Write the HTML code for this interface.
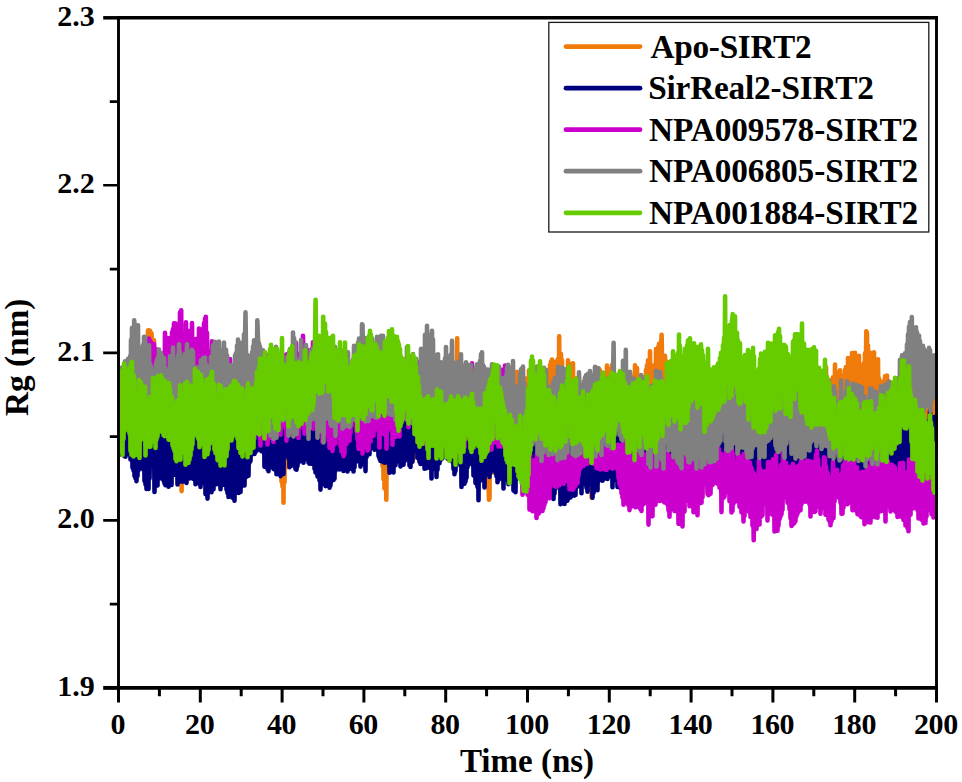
<!DOCTYPE html>
<html><head><meta charset="utf-8"><title>Rg plot</title>
<style>html,body{margin:0;padding:0;background:#fff}svg{display:block}.t{font-family:"Liberation Serif","Times New Roman",serif;font-weight:bold;fill:#000}</style></head>
<body>
<svg width="962" height="782" viewBox="0 0 962 782">
<rect x="0" y="0" width="962" height="782" fill="#fff"/>
<defs><clipPath id="pc"><rect x="118.5" y="17.8" width="819.2" height="670.1"/></clipPath></defs>
<g clip-path="url(#pc)">
<polyline fill="none" stroke="#F07A0A" stroke-width="4.6" stroke-linejoin="round" stroke-linecap="round" points="119.0,384.6 119.5,426.8 120.0,388.2 120.5,421.4 121.0,387.3 121.5,426.5 122.0,383.6 122.5,422.3 123.0,381.3 123.5,435.8 124.0,378.9 124.5,421.1 125.0,383.3 125.5,416.5 126.0,388.6 126.5,424.5 127.0,383.6 127.5,431.3 128.0,384.8 128.5,439.6 129.0,383.7 129.5,440.0 130.0,388.3 130.5,438.2 131.0,389.2 131.5,435.7 132.0,385.7 132.5,441.0 133.0,382.0 133.5,441.7 134.0,377.5 134.5,436.8 135.0,366.1 135.5,426.0 136.0,374.6 136.5,412.5 137.0,367.5 137.5,441.0 138.0,365.6 138.5,409.9 139.0,367.0 139.5,416.9 140.0,360.0 140.5,427.1 141.0,370.6 141.5,423.5 142.0,370.9 142.5,425.3 143.0,358.2 143.5,431.3 144.0,360.1 144.5,431.1 145.0,362.1 145.5,431.4 146.0,363.7 146.5,443.1 147.0,360.0 147.5,434.2 148.0,330.5 148.5,435.3 149.0,330.3 149.5,418.2 150.0,330.7 150.5,422.9 151.0,344.1 151.5,333.3 152.0,347.2 152.5,415.0 153.0,349.8 153.5,418.2 154.0,340.3 154.5,419.8 155.0,354.9 155.5,428.1 156.0,363.8 156.5,437.1 157.0,363.7 157.5,431.5 158.0,366.3 158.5,434.5 159.0,366.3 159.5,434.8 160.0,372.6 160.5,444.6 161.0,378.6 161.5,426.1 162.0,376.9 162.5,432.9 163.0,369.4 163.5,446.8 164.0,371.9 164.5,444.6 165.0,385.6 165.5,442.6 166.0,392.0 166.5,449.8 167.0,368.9 167.5,452.0 168.0,369.7 168.5,440.6 169.0,372.4 169.5,449.3 170.0,369.9 170.5,440.7 171.0,372.1 171.5,444.9 172.0,379.5 172.5,443.7 173.0,380.0 173.5,433.9 174.0,374.3 174.5,435.3 175.0,373.3 175.5,433.2 176.0,383.5 176.5,436.6 177.0,377.9 177.5,449.4 178.0,386.1 178.5,460.0 179.0,385.5 179.5,459.8 180.0,388.4 180.5,459.2 181.0,402.6 181.6,491.1 182.0,402.9 182.5,452.8 183.0,394.3 183.5,447.2 184.0,402.4 184.5,440.5 185.0,390.9 185.5,438.2 186.0,385.0 186.5,461.9 187.0,392.1 187.5,440.7 188.0,385.4 188.5,447.5 189.0,390.8 189.5,450.9 190.0,392.9 190.5,449.0 191.0,395.3 191.5,441.2 192.0,374.9 192.5,437.5 193.0,395.8 193.5,430.5 194.0,403.7 194.5,438.4 195.0,396.5 195.5,447.4 196.0,392.4 196.5,448.2 197.0,395.4 197.5,448.8 198.0,372.0 198.5,459.5 199.0,385.0 199.5,453.4 200.0,384.6 200.5,446.8 201.0,392.8 201.5,448.5 202.0,380.8 202.5,442.7 203.0,379.8 203.5,436.0 204.0,377.5 204.5,443.9 205.0,389.0 205.5,439.1 206.0,389.9 206.5,437.9 207.0,391.2 207.5,442.6 208.0,387.1 208.5,458.7 209.0,381.7 209.5,445.3 210.0,373.3 210.5,457.5 211.0,388.6 211.5,439.5 212.0,386.0 212.5,445.0 213.0,397.4 213.5,445.9 214.0,407.2 214.5,447.5 215.0,406.4 215.5,447.2 216.0,403.7 216.5,439.4 217.0,404.7 217.5,443.5 218.0,393.1 218.5,447.6 219.0,394.4 219.5,447.6 220.0,400.7 220.5,445.7 221.0,388.2 221.5,440.5 222.0,393.0 222.5,448.4 223.0,389.5 223.5,451.7 224.0,378.1 224.5,453.2 225.0,386.7 225.5,459.1 226.0,381.5 226.5,447.1 227.0,377.0 227.5,446.0 228.0,406.4 228.5,461.1 229.0,410.2 229.5,452.3 230.0,398.1 230.5,452.6 231.0,396.0 231.5,455.5 232.0,379.4 232.5,454.8 233.0,375.4 233.5,461.0 234.0,376.5 234.5,458.8 235.0,376.9 235.5,454.0 236.0,385.6 236.5,443.6 237.0,382.9 237.5,448.1 238.0,386.4 238.5,432.7 239.0,386.6 239.5,439.4 240.0,395.3 240.5,438.8 241.0,395.0 241.5,445.7 242.0,395.5 242.5,431.4 243.0,391.6 243.5,435.6 244.0,394.5 244.5,428.1 245.0,391.7 245.5,440.8 246.0,398.0 246.5,442.0 247.0,402.5 247.5,454.9 248.0,392.4 248.5,435.0 249.0,362.2 249.5,432.6 250.0,373.6 250.5,422.5 251.0,355.7 251.5,430.6 252.0,359.2 252.5,439.1 253.0,381.7 253.5,437.8 254.0,383.3 254.5,429.1 255.0,394.1 255.5,434.0 256.0,387.5 256.5,449.8 257.0,382.7 257.5,424.8 258.0,389.9 258.5,431.9 259.0,402.8 259.5,430.8 260.0,397.9 260.5,429.5 261.0,398.6 261.5,432.7 262.0,381.4 262.5,435.8 263.0,380.5 263.5,433.9 264.0,384.6 264.5,445.9 265.0,383.9 265.5,450.3 266.0,380.1 266.5,448.4 267.0,377.7 267.5,453.1 268.0,377.4 268.5,454.2 269.0,399.5 269.5,444.1 270.0,407.1 270.5,438.0 271.0,409.3 271.5,441.3 272.0,405.1 272.5,453.4 273.0,394.3 273.5,447.4 274.0,370.5 274.5,438.0 275.0,396.0 275.5,442.1 276.0,404.3 276.5,450.2 277.0,411.5 277.5,450.4 278.0,402.4 278.5,470.4 279.0,407.3 279.5,465.7 280.0,402.7 280.5,468.5 281.0,396.3 281.5,481.6 282.0,404.7 282.5,486.4 283.0,394.9 283.5,502.7 284.0,398.3 284.5,482.6 285.0,384.5 285.5,468.2 286.0,392.1 286.5,465.0 287.0,396.5 287.5,452.2 288.0,405.5 288.5,450.7 289.0,409.0 289.5,439.4 290.0,393.3 290.5,442.7 291.0,399.9 291.5,443.9 292.0,385.2 292.5,460.1 293.0,375.1 293.5,433.9 294.0,380.9 294.5,435.2 295.0,385.3 295.5,437.2 296.0,399.0 296.5,450.6 297.0,394.5 297.5,442.3 298.0,392.8 298.5,447.7 299.0,393.4 299.5,446.1 300.0,398.4 300.5,438.4 301.0,396.6 301.5,451.8 302.0,392.0 302.5,437.5 303.0,384.3 303.5,442.5 304.0,379.6 304.5,443.6 305.0,378.7 305.5,442.8 306.0,392.8 306.5,443.7 307.0,391.9 307.5,437.3 308.0,395.4 308.5,442.3 309.0,392.2 309.5,446.2 310.0,376.8 310.5,443.2 311.0,380.2 311.5,447.2 312.0,386.8 312.5,452.8 313.0,395.0 313.5,445.8 314.0,388.8 314.5,444.3 315.0,391.8 315.5,442.8 316.0,384.5 316.5,462.4 317.0,371.3 317.5,453.0 318.0,377.8 318.5,453.3 319.0,385.8 319.5,451.6 320.0,380.5 320.5,462.2 321.0,384.1 321.5,436.0 322.0,378.2 322.5,443.0 323.0,376.6 323.5,446.1 324.0,384.4 324.5,442.9 325.0,393.0 325.5,428.7 326.0,374.2 326.5,426.7 327.0,395.8 327.5,457.2 328.0,392.6 328.5,436.8 329.0,382.9 329.5,451.0 330.0,394.4 330.5,454.4 331.0,395.5 331.5,454.8 332.0,396.8 332.5,453.9 333.0,370.8 333.5,450.3 334.0,386.8 334.5,447.2 335.0,381.0 335.5,443.8 336.0,382.8 336.5,446.3 337.0,382.4 337.5,439.4 338.0,379.5 338.5,439.3 339.0,377.8 339.5,421.4 340.0,375.6 340.5,427.5 341.0,373.9 341.5,431.0 342.0,377.7 342.5,439.2 343.0,386.9 343.5,438.2 344.0,386.6 344.5,456.9 345.0,371.4 345.5,434.8 346.0,386.7 346.5,432.1 347.0,389.4 347.5,432.0 348.0,388.7 348.5,452.8 349.0,392.8 349.5,431.8 350.0,391.8 350.5,435.1 351.0,395.7 351.5,454.3 352.0,386.9 352.5,443.2 353.0,392.2 353.5,453.0 354.0,387.6 354.5,445.3 355.0,394.2 355.5,446.2 356.0,392.4 356.5,435.4 357.0,378.2 357.5,435.2 358.0,378.7 358.5,438.8 359.0,376.2 359.5,444.8 360.0,382.5 360.5,443.2 361.0,389.3 361.5,441.8 362.0,389.9 362.5,434.5 363.0,393.2 363.5,435.9 364.0,375.6 364.5,444.4 365.0,389.5 365.5,447.8 366.0,391.8 366.5,449.6 367.0,386.0 367.5,445.0 368.0,393.6 368.5,435.2 369.0,397.1 369.5,435.7 370.0,402.3 370.5,438.9 371.0,406.9 371.5,433.0 372.0,404.4 372.5,435.4 373.0,407.3 373.5,430.7 374.0,403.0 374.5,435.8 375.0,395.1 375.5,431.8 376.0,395.3 376.5,440.8 377.0,398.2 377.5,422.8 378.0,393.3 378.5,428.8 379.0,398.8 379.5,444.0 380.0,389.9 380.5,448.1 381.0,404.4 381.5,460.0 382.0,398.2 382.5,466.0 383.0,405.0 383.5,479.3 384.0,414.6 384.5,488.6 385.0,408.1 385.5,477.7 386.0,438.1 386.3,499.7 387.0,412.9 387.5,467.4 388.0,416.8 388.5,457.5 389.0,403.1 389.5,462.4 390.0,397.7 390.5,455.5 391.0,399.4 391.5,452.0 392.0,378.2 392.5,448.4 393.0,404.1 393.5,444.2 394.0,388.1 394.5,448.0 395.0,387.2 395.5,446.9 396.0,381.3 396.5,449.6 397.0,378.1 397.5,451.6 398.0,385.8 398.5,447.8 399.0,391.9 399.5,459.8 400.0,388.0 400.5,447.1 401.0,381.7 401.5,453.7 402.0,382.9 402.5,444.6 403.0,390.3 403.5,439.4 404.0,401.9 404.5,438.8 405.0,399.9 405.5,446.6 406.0,396.3 406.5,445.3 407.0,389.2 407.5,457.5 408.0,391.5 408.5,442.7 409.0,391.9 409.5,443.6 410.0,386.3 410.5,437.4 411.0,372.9 411.5,441.9 412.0,381.6 412.5,439.8 413.0,383.3 413.5,440.3 414.0,377.6 414.5,457.5 415.0,392.4 415.5,434.6 416.0,395.3 416.5,437.1 417.0,386.0 417.5,448.5 418.0,388.9 418.5,454.7 419.0,386.3 419.5,452.2 420.0,389.3 420.5,444.9 421.0,382.7 421.5,434.7 422.0,377.8 422.5,428.3 423.0,392.0 423.5,437.7 424.0,387.4 424.5,444.7 425.0,378.6 425.5,448.3 426.0,374.4 426.5,440.0 427.0,384.8 427.5,439.7 428.0,376.9 428.5,441.9 429.0,389.2 429.5,446.7 430.0,402.2 430.5,456.4 431.0,405.8 431.5,438.7 432.0,401.1 432.5,429.5 433.0,382.5 433.5,422.5 434.0,386.8 434.5,431.2 435.0,377.6 435.5,430.7 436.0,388.8 436.5,433.8 437.0,383.0 437.5,424.7 438.0,384.5 438.5,434.6 439.0,376.6 439.5,434.2 440.0,376.8 440.5,450.1 441.0,373.8 441.5,444.7 442.0,383.9 442.5,447.2 443.0,371.6 443.5,437.3 444.0,377.6 444.5,439.1 445.0,373.5 445.5,435.7 446.0,374.6 446.5,425.3 447.0,385.8 447.5,420.3 448.0,368.7 448.5,459.5 449.0,384.3 449.5,433.5 450.0,376.3 450.5,448.9 451.0,376.6 451.5,448.1 452.0,380.1 452.5,438.5 453.0,392.4 453.5,427.2 454.0,377.9 454.5,425.2 455.0,372.3 455.5,427.9 456.0,362.4 456.5,437.2 457.2,338.3 457.5,438.8 458.0,355.6 458.5,449.7 459.0,361.1 459.5,449.9 460.0,362.9 460.5,436.0 461.0,370.9 461.5,437.6 462.0,367.7 462.5,454.8 463.0,365.5 463.5,429.2 464.0,377.8 464.5,433.0 465.0,380.5 465.5,437.5 466.0,384.1 466.5,448.4 467.0,390.7 467.5,456.5 468.0,387.3 468.5,453.9 469.0,388.1 469.5,457.8 470.0,392.2 470.5,452.2 471.0,391.3 471.5,444.4 472.0,392.3 472.5,448.2 473.0,395.2 473.5,455.3 474.0,382.1 474.5,460.1 475.0,374.5 475.5,467.5 476.0,371.3 476.5,455.5 477.0,371.9 477.5,465.0 478.0,377.5 478.5,459.6 479.0,375.2 479.5,455.2 480.0,375.4 480.5,456.0 481.0,377.6 481.5,456.4 482.0,384.4 482.5,460.4 483.0,402.7 483.5,452.7 484.0,413.5 484.5,451.4 485.0,417.9 485.5,458.8 486.0,409.8 486.5,472.9 487.0,399.3 487.5,468.7 488.0,389.5 488.5,483.3 489.0,499.7 489.5,498.2 490.0,398.4 490.5,456.6 491.0,399.4 491.5,463.2 492.0,394.1 492.5,462.3 493.0,390.7 493.5,457.8 494.0,389.8 494.5,472.9 495.0,393.9 495.5,445.2 496.0,385.0 496.5,450.0 497.0,376.8 497.5,464.5 498.0,385.4 498.5,469.9 499.0,396.6 499.5,468.3 500.0,401.4 500.5,465.0 501.0,400.8 501.5,465.6 502.0,394.5 502.5,453.0 503.0,395.8 503.5,447.7 504.0,385.9 504.5,466.4 505.0,388.3 505.5,459.1 506.0,384.3 506.5,458.4 507.0,391.6 507.5,452.6 508.0,373.9 508.5,445.2 509.0,392.4 509.5,443.1 510.0,382.9 510.5,468.7 511.0,386.5 511.5,448.7 512.0,381.4 512.5,451.7 513.0,381.5 513.5,452.9 514.0,377.0 514.5,442.1 515.0,392.0 515.5,439.3 516.0,374.3 516.5,465.5 517.0,371.7 517.5,443.9 518.0,383.3 518.5,449.0 519.0,391.3 519.5,450.9 520.0,392.7 520.5,448.8 521.0,375.0 521.5,449.9 522.0,399.8 522.5,453.3 523.0,388.9 523.5,466.3 524.0,388.6 524.5,448.9 525.0,378.2 525.5,440.7 526.0,384.0 526.5,438.9 527.0,387.3 527.5,445.4 528.0,390.1 528.5,453.7 529.0,370.2 529.5,464.5 530.0,390.3 530.5,444.4 531.0,392.7 531.5,440.3 532.0,372.4 532.5,434.1 533.0,383.7 533.5,464.5 534.0,400.8 534.5,466.2 535.0,396.9 535.5,458.0 536.0,387.0 536.5,463.8 537.0,393.2 537.5,461.5 538.0,389.7 538.5,465.0 539.0,372.6 539.5,459.0 540.0,380.1 540.5,451.9 541.0,373.1 541.5,445.4 542.0,374.9 542.5,443.0 543.0,378.6 543.5,451.7 544.0,383.4 544.5,457.4 545.0,372.7 545.5,467.5 546.0,375.7 546.5,458.8 547.0,387.6 547.5,461.7 548.0,388.8 548.5,451.2 549.0,385.6 549.5,442.0 550.0,365.1 550.5,440.0 551.0,361.5 551.5,434.1 552.0,359.5 552.5,445.1 553.0,365.8 553.5,440.9 554.0,366.0 554.5,438.3 555.0,366.6 555.5,448.9 556.0,361.6 556.5,446.2 557.0,366.5 557.5,444.2 558.0,358.7 558.5,447.6 559.2,336.3 559.5,437.4 560.0,362.2 560.5,436.2 561.0,354.0 561.5,441.6 562.0,360.3 562.5,447.2 563.0,377.7 563.5,443.9 564.0,391.2 564.5,444.4 565.0,387.6 565.5,443.3 566.0,388.2 566.5,457.4 567.0,380.0 567.5,449.4 568.0,360.3 568.5,447.5 569.0,383.5 569.5,449.0 570.0,373.8 570.5,457.0 571.0,364.0 571.5,459.6 572.0,390.7 572.5,464.0 573.0,363.4 573.5,463.2 574.0,384.5 574.5,459.5 575.0,386.2 575.5,463.6 576.0,384.9 576.5,459.8 577.0,378.3 577.5,466.0 578.0,379.7 578.5,463.0 579.0,377.6 579.5,466.5 580.0,387.8 580.5,459.3 581.0,394.7 581.5,461.3 582.0,390.9 582.5,469.7 583.0,395.6 583.5,452.4 584.0,389.1 584.5,472.5 585.0,380.2 585.5,465.7 586.0,385.0 586.5,465.7 587.0,386.7 587.5,466.0 588.0,389.0 588.5,464.5 589.0,393.2 589.5,459.8 590.0,378.6 590.5,489.6 591.0,392.5 591.6,497.7 592.0,405.6 592.5,482.7 593.0,403.5 593.5,484.1 594.0,396.5 594.5,467.6 595.0,384.4 595.5,453.0 596.0,393.6 596.5,442.6 597.0,368.1 597.5,438.3 598.0,378.2 598.5,465.8 599.0,368.7 599.5,446.7 600.0,370.3 600.5,447.2 601.0,379.4 601.5,455.9 602.0,386.1 602.5,443.4 603.0,391.4 603.5,445.5 604.0,392.7 604.5,431.1 605.0,396.7 605.5,429.1 606.0,390.2 606.5,427.2 607.0,365.5 607.5,435.2 608.0,390.6 608.5,446.7 609.0,390.8 609.5,465.0 610.0,387.5 610.5,461.6 611.0,368.9 611.5,463.1 612.0,365.0 612.5,441.2 613.0,375.4 613.5,434.8 614.0,380.1 614.5,425.2 615.0,384.6 615.5,429.5 616.0,390.2 616.5,435.6 617.0,392.6 617.5,440.3 618.0,383.8 618.5,434.9 619.0,384.4 619.5,442.7 620.0,386.7 620.5,443.1 621.0,383.4 621.5,444.7 622.0,398.2 622.5,442.5 623.0,394.0 623.5,451.0 624.0,397.2 624.5,461.8 625.0,397.6 625.5,456.6 626.0,393.2 626.5,465.6 627.0,382.9 627.5,438.1 628.0,390.1 628.5,425.5 629.0,381.9 629.5,462.4 630.0,382.7 630.5,440.7 631.0,389.2 631.5,445.1 632.0,391.3 632.5,451.5 633.0,381.7 633.5,441.6 634.0,375.8 634.5,439.4 635.0,365.3 635.5,451.7 636.0,372.2 636.5,451.3 637.0,368.1 637.5,460.2 638.0,380.6 638.5,454.6 639.0,380.4 639.5,460.2 640.0,377.9 640.5,442.3 641.0,382.0 641.5,428.3 642.0,394.2 642.5,426.2 643.0,384.9 643.5,425.8 644.0,389.4 644.5,439.8 645.0,376.6 645.5,433.9 646.0,369.8 646.5,426.3 647.0,365.4 647.5,425.8 648.0,360.3 648.5,425.3 649.0,376.6 649.5,435.9 650.0,351.4 650.5,433.8 651.0,369.0 651.5,451.6 652.0,366.6 652.5,437.8 653.0,367.2 653.5,431.4 654.0,365.3 654.5,434.0 655.0,367.9 655.5,427.1 656.0,349.1 656.5,435.8 657.0,352.0 657.5,451.1 658.0,347.3 658.5,445.9 659.0,343.7 659.5,443.0 660.0,349.8 660.5,429.6 661.0,351.1 661.6,334.7 662.0,359.4 662.5,436.4 663.0,361.4 663.5,425.6 664.0,362.7 664.5,443.5 665.0,355.9 665.5,441.8 666.0,361.3 666.5,443.1 667.0,361.8 667.5,453.3 668.0,374.0 668.5,450.2 669.0,380.9 669.5,454.3 670.0,383.0 670.5,451.0 671.0,373.6 671.5,454.3 672.0,371.5 672.5,446.3 673.0,370.9 673.5,449.5 674.0,368.8 674.5,444.4 675.0,378.0 675.5,454.4 676.0,365.2 676.5,447.7 677.0,373.6 677.5,437.7 678.0,382.6 678.5,447.2 679.0,390.4 679.5,439.5 680.0,396.3 680.5,436.7 681.0,386.8 681.5,453.0 682.0,371.9 682.5,457.8 683.0,383.3 683.5,443.0 684.0,387.7 684.5,440.6 685.0,405.0 685.5,448.0 686.0,395.7 686.5,452.2 687.0,399.1 687.5,452.7 688.0,375.8 688.5,450.5 689.0,400.7 689.5,446.4 690.0,412.1 690.5,446.9 691.0,411.5 691.5,436.7 692.0,407.3 692.5,433.8 693.0,401.1 693.5,437.0 694.0,386.8 694.5,437.4 695.0,381.7 695.5,439.1 696.0,380.3 696.5,437.9 697.0,386.9 697.5,443.9 698.0,392.1 698.5,451.5 699.0,379.7 699.5,453.1 700.0,396.5 700.5,456.3 701.0,397.9 701.5,443.4 702.0,392.4 702.5,458.9 703.0,395.5 703.5,455.5 704.0,389.7 704.5,456.5 705.0,403.8 705.5,450.6 706.0,402.4 706.5,434.2 707.0,399.1 707.5,437.3 708.0,399.4 708.5,460.6 709.0,396.0 709.5,438.5 710.0,388.5 710.5,440.3 711.0,387.7 711.5,447.0 712.0,393.0 712.5,440.3 713.0,391.3 713.5,449.2 714.0,400.3 714.5,451.7 715.0,388.0 715.5,451.2 716.0,406.1 716.5,451.6 717.0,409.2 717.5,453.5 718.0,407.0 718.5,444.7 719.0,387.5 719.5,454.0 720.0,398.7 720.5,432.6 721.0,386.9 721.5,448.4 722.0,395.4 722.5,446.2 723.0,406.4 723.5,448.4 724.0,407.3 724.5,451.8 725.0,407.0 725.5,445.9 726.0,415.3 726.5,444.4 727.0,414.8 727.5,450.5 728.0,389.2 728.5,450.5 729.0,417.1 729.5,446.3 730.0,409.8 730.5,441.4 731.0,412.3 731.5,440.6 732.0,416.0 732.5,449.2 733.0,408.6 733.5,452.7 734.0,411.5 734.5,455.4 735.0,402.3 735.5,443.8 736.0,388.5 736.5,442.7 737.0,391.3 737.5,441.6 738.0,395.1 738.5,457.9 739.0,400.3 739.5,445.3 740.0,405.4 740.5,441.8 741.0,410.8 741.5,444.6 742.0,403.1 742.5,451.8 743.0,402.7 743.5,451.9 744.0,391.4 744.5,450.8 745.0,389.8 745.5,445.4 746.0,393.6 746.5,447.7 747.0,399.5 747.5,448.3 748.0,394.0 748.5,452.6 749.0,399.2 749.5,453.3 750.0,391.8 750.5,457.5 751.0,395.4 751.5,456.8 752.0,395.6 752.5,456.1 753.0,394.4 753.5,457.1 754.0,398.7 754.5,448.5 755.0,392.1 755.5,447.2 756.0,398.7 756.5,456.4 757.0,399.0 757.5,444.9 758.0,412.1 758.5,449.9 759.0,387.8 759.5,451.9 760.0,410.8 760.5,443.1 761.0,411.7 761.5,445.8 762.0,410.9 762.5,440.6 763.0,403.5 763.5,456.2 764.0,401.7 764.5,447.4 765.0,395.6 765.5,439.8 766.0,396.3 766.5,448.3 767.0,384.0 767.5,442.9 768.0,389.9 768.5,448.3 769.0,398.1 769.5,452.2 770.0,398.5 770.5,454.5 771.0,400.0 771.5,452.8 772.0,397.5 772.5,454.0 773.0,394.4 773.5,452.4 774.0,389.7 774.5,452.3 775.0,394.2 775.5,456.7 776.0,392.4 776.5,452.2 777.0,400.6 777.5,455.2 778.0,388.2 778.5,451.9 779.0,398.3 779.5,439.1 780.0,395.7 780.5,434.6 781.0,398.5 781.5,434.5 782.0,401.9 782.5,434.3 783.0,394.6 783.5,443.9 784.0,392.2 784.5,432.4 785.0,384.7 785.5,431.6 786.0,396.1 786.5,426.3 787.0,392.0 787.5,434.9 788.0,390.5 788.5,456.2 789.0,381.0 789.5,445.4 790.0,389.8 790.5,446.8 791.0,391.1 791.5,459.6 792.0,387.1 792.5,444.3 793.0,378.2 793.5,444.7 794.0,385.5 794.5,442.5 795.0,379.9 795.5,440.2 796.0,392.6 796.5,448.3 797.0,392.1 797.5,444.0 798.0,378.0 798.5,447.6 799.0,396.8 799.5,438.2 800.0,398.8 800.5,447.5 801.0,396.9 801.5,447.7 802.0,388.7 802.5,434.6 803.0,388.9 803.5,435.2 804.0,389.3 804.5,437.5 805.0,390.3 805.5,428.8 806.0,382.3 806.5,441.8 807.0,380.4 807.5,437.0 808.0,370.9 808.5,439.0 809.0,373.7 809.5,441.8 810.0,377.0 810.5,433.5 811.0,373.9 811.5,438.7 812.0,376.5 812.5,441.2 813.0,389.6 813.5,437.2 814.0,376.4 814.5,450.9 815.0,400.8 815.5,456.9 816.0,402.4 816.5,450.2 817.0,397.7 817.5,451.7 818.0,385.0 818.5,445.7 819.0,392.5 819.5,439.2 820.0,394.5 820.5,436.0 821.0,397.4 821.5,456.6 822.0,391.8 822.5,436.3 823.0,384.0 823.5,439.7 824.0,389.5 824.5,428.4 825.0,389.8 825.5,434.6 826.0,367.0 826.5,421.9 827.0,397.3 827.5,425.2 828.0,392.5 828.5,430.8 829.0,387.3 829.5,431.1 830.0,384.4 830.5,426.5 831.0,382.7 831.5,419.1 832.0,379.3 832.5,456.5 833.0,377.3 833.5,434.6 834.0,379.6 834.5,439.8 835.0,364.6 835.5,442.1 836.0,381.4 836.5,445.0 837.0,382.9 837.5,445.8 838.0,372.1 838.5,447.8 839.0,375.7 839.5,429.5 840.0,370.2 840.5,427.5 841.0,375.2 841.5,425.0 842.0,382.8 842.5,433.0 843.0,375.9 843.5,433.6 844.0,377.9 844.5,428.1 845.0,369.9 845.5,430.6 846.0,367.1 846.5,416.5 847.0,371.6 847.5,428.5 848.0,358.0 848.5,425.8 849.0,364.6 849.5,431.3 850.0,361.7 850.5,424.2 851.0,359.4 851.5,436.2 852.0,353.1 852.5,426.8 853.0,382.8 853.5,420.0 854.0,391.8 854.5,420.3 855.0,352.7 855.5,425.8 856.0,387.1 856.5,443.1 857.0,366.5 857.5,444.4 858.0,365.7 858.5,442.7 859.0,355.9 859.5,443.9 860.0,365.0 860.5,450.4 861.0,369.9 861.5,422.0 862.0,372.2 862.5,415.5 863.0,369.1 863.5,426.4 864.0,363.0 864.5,433.8 865.0,353.4 865.5,438.7 866.0,358.2 866.3,331.3 867.0,333.5 867.5,430.7 868.0,345.5 868.5,425.2 869.0,358.7 869.5,425.3 870.0,352.5 870.5,426.1 871.0,366.3 871.5,447.1 872.0,358.8 872.5,440.4 873.0,375.9 873.5,438.0 874.0,352.2 874.5,425.7 875.0,368.0 875.5,414.6 876.0,363.1 876.5,412.5 877.0,364.9 877.5,423.2 878.0,359.3 878.5,425.8 879.0,378.3 879.5,439.6 880.0,381.1 880.5,437.1 881.0,385.9 881.5,435.8 882.0,388.1 882.5,435.9 883.0,386.5 883.5,438.8 884.0,381.4 884.5,453.7 885.0,376.2 885.5,435.6 886.0,383.5 886.5,435.3 887.0,375.6 887.5,434.2 888.0,383.9 888.5,439.6 889.0,386.6 889.5,443.8 890.0,382.0 890.5,446.1 891.0,401.3 891.5,454.4 892.0,411.7 892.5,455.7 893.0,405.7 893.5,453.6 894.0,407.5 894.5,454.1 895.0,403.0 895.5,447.4 896.0,405.1 896.5,449.3 897.0,410.0 897.5,457.5 898.0,409.8 898.5,450.3 899.0,413.1 899.5,452.6 900.0,410.5 900.5,450.9 901.0,407.3 901.5,450.3 902.0,412.4 902.5,449.2 903.0,406.5 903.5,447.6 904.0,394.8 904.5,452.3 905.0,410.6 905.5,448.9 906.0,408.3 906.5,442.0 907.0,402.0 907.5,442.7 908.0,397.7 908.5,439.9 909.0,393.8 909.5,438.5 910.0,388.9 910.5,446.5 911.0,407.5 911.5,447.1 912.0,405.4 912.5,453.1 913.0,397.6 913.5,450.4 914.0,390.9 914.5,442.2 915.0,392.8 915.5,434.9 916.0,391.2 916.5,446.2 917.0,402.7 917.5,442.1 918.0,405.6 918.5,440.2 919.0,400.8 919.5,438.2 920.0,407.8 920.5,440.7 921.0,408.0 921.5,440.6 922.0,393.1 922.5,441.5 923.0,409.9 923.5,444.2 924.0,399.5 924.5,438.5 925.0,400.4 925.5,435.8 926.0,398.4 926.5,431.9 927.0,398.3 927.5,427.2 928.0,392.4 928.5,428.8 929.0,401.8 929.5,434.3 930.0,406.0 930.5,434.8 931.0,402.3 931.5,436.7 932.0,398.6 932.5,436.9 933.0,396.8 933.5,431.5 934.0,399.8 934.5,433.0 935.0,396.8"/>
<polyline fill="none" stroke="#00007F" stroke-width="4.6" stroke-linejoin="round" stroke-linecap="round" points="118.0,446.1 118.5,454.9 119.0,445.5 119.5,454.7 120.0,442.1 120.5,453.8 121.0,434.5 121.5,454.3 122.0,434.0 122.5,453.5 123.0,434.3 123.5,455.3 124.0,434.1 124.5,456.1 125.0,433.7 125.5,456.8 126.0,437.4 126.5,454.1 127.0,438.4 127.5,451.7 128.0,434.8 128.5,452.1 129.0,427.4 129.5,450.3 130.0,424.6 130.5,459.4 131.0,419.3 131.5,458.4 132.0,432.5 132.5,467.7 133.0,429.4 133.5,470.5 134.0,427.5 134.5,476.0 135.0,433.2 135.5,478.3 136.0,436.9 136.5,481.1 137.0,421.4 137.5,475.9 138.0,433.7 138.5,470.3 139.0,429.4 139.5,466.1 140.0,422.3 140.5,465.1 141.0,435.3 141.5,467.5 142.0,431.3 142.5,468.7 143.0,432.2 143.5,469.6 144.0,418.5 144.5,480.9 145.0,439.3 145.5,484.5 146.0,438.9 146.5,489.0 147.0,442.4 147.5,485.9 148.0,441.6 148.5,488.9 149.0,446.6 149.5,478.5 150.0,447.4 150.5,465.7 151.0,435.1 151.5,458.8 152.0,433.6 152.5,459.8 153.0,433.2 153.5,459.7 154.0,426.5 154.5,491.9 155.0,434.7 155.5,483.2 156.0,423.5 156.5,482.2 157.0,429.0 157.5,485.5 158.0,420.0 158.5,478.4 159.0,433.5 159.5,478.5 160.0,434.8 160.5,465.8 161.0,435.8 161.5,461.9 162.0,433.0 162.5,467.9 163.0,436.5 163.5,480.5 164.0,433.1 164.5,483.4 165.0,431.4 165.5,485.3 166.0,426.0 166.5,481.6 167.0,428.5 167.5,478.4 168.0,420.7 168.5,486.7 169.0,424.4 169.5,464.7 170.0,425.0 170.5,466.2 171.0,426.7 171.5,485.0 172.0,432.1 172.5,474.8 173.0,433.9 173.5,472.3 174.0,435.2 174.5,474.6 175.0,436.9 175.5,474.4 176.0,439.2 176.5,472.5 177.0,435.8 177.5,484.4 178.0,428.6 178.5,482.3 179.0,426.3 179.5,479.9 180.0,431.4 180.5,476.3 181.0,439.7 181.5,470.9 182.0,443.4 182.5,481.7 183.0,441.3 183.5,469.4 184.0,436.5 184.5,468.8 185.0,426.8 185.5,471.8 186.0,430.1 186.5,483.0 187.0,429.0 187.5,471.6 188.0,435.3 188.5,473.8 189.0,433.0 189.5,478.4 190.0,418.5 190.5,477.4 191.0,436.3 191.5,475.8 192.0,427.9 192.5,478.3 193.0,432.7 193.5,479.0 194.0,436.1 194.5,478.4 195.0,429.8 195.5,484.3 196.0,432.0 196.5,483.2 197.0,432.7 197.5,471.2 198.0,426.1 198.5,479.9 199.0,422.1 199.5,479.4 200.0,425.9 200.5,486.9 201.0,422.4 201.5,475.6 202.0,427.1 202.5,479.7 203.0,421.5 203.5,483.1 204.0,443.2 204.5,481.8 205.0,437.9 205.5,494.1 206.0,437.3 206.5,489.8 207.0,423.1 207.5,498.6 208.0,422.2 208.5,481.2 209.0,423.8 209.5,479.6 210.0,436.0 210.5,489.2 211.0,438.6 211.5,492.2 212.0,435.8 212.5,489.2 213.0,433.1 213.5,489.2 214.0,430.3 214.5,482.5 215.0,434.6 215.5,477.9 216.0,424.7 216.5,484.3 217.0,432.2 217.5,473.7 218.0,435.4 218.5,475.3 219.0,438.3 219.5,479.6 220.0,442.4 220.5,489.3 221.0,436.1 221.5,475.6 222.0,433.2 222.5,484.9 223.0,431.7 223.5,474.6 224.0,429.6 224.5,478.2 225.0,440.3 225.5,483.7 226.0,436.1 226.5,489.6 227.0,436.2 227.5,493.0 228.0,420.3 228.5,496.9 229.0,431.7 229.5,485.3 230.0,433.3 230.5,492.6 231.0,431.0 231.5,496.8 232.0,427.8 232.5,497.7 233.0,434.3 233.5,494.0 234.0,425.7 234.5,500.7 235.0,426.7 235.5,489.2 236.0,435.4 236.5,486.6 237.0,423.6 237.5,486.2 238.0,438.2 238.5,492.9 239.0,444.4 239.5,491.6 240.0,439.3 240.5,491.9 241.0,437.2 241.5,484.9 242.0,430.4 242.5,485.2 243.0,437.1 243.5,485.4 244.0,418.7 244.5,485.4 245.0,444.6 245.5,472.4 246.0,441.6 246.5,476.8 247.0,430.5 247.5,475.8 248.0,430.3 248.5,475.8 249.0,435.2 249.5,462.7 250.0,433.0 250.5,460.9 251.0,431.5 251.5,454.8 252.0,422.0 252.5,448.4 253.0,420.4 253.5,446.8 254.0,422.6 254.5,453.9 255.0,408.6 255.5,452.0 256.0,408.9 256.5,450.8 257.0,409.1 257.5,446.2 258.0,406.3 258.5,445.7 259.0,408.5 259.5,449.2 260.0,414.7 260.5,450.2 261.0,418.7 261.5,451.2 262.0,417.4 262.5,446.4 263.0,418.0 263.5,448.8 264.0,426.8 264.5,466.6 265.0,427.3 265.5,454.4 266.0,431.8 266.5,463.6 267.0,423.7 267.5,469.3 268.0,420.5 268.5,471.2 269.0,428.9 269.5,465.2 270.0,433.8 270.5,461.8 271.0,430.6 271.5,466.9 272.0,409.6 272.5,466.8 273.0,422.0 273.5,468.9 274.0,425.9 274.5,469.4 275.0,423.7 275.5,468.1 276.0,430.4 276.5,474.3 277.0,425.1 277.5,466.0 278.0,413.3 278.5,461.6 279.0,418.0 279.5,470.3 280.0,412.1 280.5,476.1 281.0,410.6 281.5,461.6 282.0,414.5 282.5,452.4 283.0,411.2 283.5,473.9 284.0,411.0 284.5,447.6 285.0,421.6 285.5,451.6 286.0,420.5 286.5,454.9 287.0,425.2 287.5,454.4 288.0,425.8 288.5,458.5 289.0,430.3 289.5,467.3 290.0,432.2 290.5,461.1 291.0,432.0 291.5,465.8 292.0,408.8 292.5,459.0 293.0,419.8 293.5,463.8 294.0,412.3 294.5,465.3 295.0,421.4 295.5,469.0 296.0,422.0 296.5,469.7 297.0,425.3 297.5,466.1 298.0,411.2 298.5,462.4 299.0,414.7 299.5,457.1 300.0,420.8 300.5,460.9 301.0,424.3 301.5,459.5 302.0,419.4 302.5,460.7 303.0,415.1 303.5,462.7 304.0,417.9 304.5,459.0 305.0,418.7 305.5,456.1 306.0,422.6 306.5,454.7 307.0,417.0 307.5,453.3 308.0,433.0 308.5,462.5 309.0,433.6 309.5,463.7 310.0,428.0 310.5,463.3 311.0,429.3 311.5,463.6 312.0,425.6 312.5,454.9 313.0,418.4 313.5,462.9 314.0,421.0 314.5,468.7 315.0,419.6 315.5,472.5 316.0,428.5 316.5,470.8 317.0,441.7 317.5,476.5 318.0,445.9 318.5,470.1 319.0,437.9 319.5,480.4 320.0,420.1 320.5,489.6 321.0,417.3 321.5,484.2 322.0,430.7 322.5,481.8 323.0,437.4 323.5,477.1 324.0,440.9 324.5,482.5 325.0,431.2 325.5,486.1 326.0,432.6 326.5,482.6 327.0,431.2 327.5,483.6 328.0,427.9 328.5,479.8 329.0,428.8 329.5,487.7 330.0,422.4 330.5,485.4 331.0,430.8 331.5,481.1 332.0,430.1 332.5,477.5 333.0,428.5 333.5,479.9 334.0,433.2 334.5,478.7 335.0,435.1 335.5,470.7 336.0,440.1 336.5,463.7 337.0,436.8 337.5,465.0 338.0,429.8 338.5,465.2 339.0,425.9 339.5,469.4 340.0,417.6 340.5,466.5 341.0,424.5 341.5,464.4 342.0,425.4 342.5,465.7 343.0,423.7 343.5,471.0 344.0,422.8 344.5,469.4 345.0,426.9 345.5,465.5 346.0,431.4 346.5,464.1 347.0,423.5 347.5,471.5 348.0,421.0 348.5,467.7 349.0,415.8 349.5,468.9 350.0,413.2 350.5,462.3 351.0,412.8 351.5,462.4 352.0,413.7 352.5,461.6 353.0,414.6 353.5,471.5 354.0,412.5 354.5,467.2 355.0,422.4 355.5,460.7 356.0,422.4 356.5,461.5 357.0,426.4 357.5,454.7 358.0,422.7 358.5,453.3 359.0,412.9 359.5,445.8 360.0,413.3 360.5,466.6 361.0,416.9 361.5,448.4 362.0,420.0 362.5,464.1 363.0,416.1 363.5,452.0 364.0,417.5 364.5,456.6 365.0,413.6 365.5,471.1 366.0,410.2 366.5,457.2 367.0,421.0 367.5,453.0 368.0,421.9 368.5,453.5 369.0,419.4 369.5,454.3 370.0,408.7 370.5,447.4 371.0,416.1 371.5,448.0 372.0,414.9 372.5,443.5 373.0,424.5 373.5,443.7 374.0,418.2 374.5,449.7 375.0,419.0 375.5,445.1 376.0,417.3 376.5,446.4 377.0,425.8 377.5,447.0 378.0,412.0 378.5,456.0 379.0,422.7 379.5,458.8 380.0,419.9 380.5,460.9 381.0,423.9 381.5,461.2 382.0,418.8 382.5,459.3 383.0,420.1 383.5,462.3 384.0,418.7 384.5,462.8 385.0,426.2 385.5,457.7 386.0,411.6 386.5,453.9 387.0,422.1 387.5,460.5 388.0,427.2 388.5,463.4 389.0,426.6 389.5,472.8 390.0,430.8 390.5,470.7 391.0,421.6 391.5,467.9 392.0,417.2 392.5,466.9 393.0,414.6 393.5,472.5 394.0,413.0 394.5,458.8 395.0,416.8 395.5,465.3 396.0,411.6 396.5,460.2 397.0,411.8 397.5,461.3 398.0,412.8 398.5,457.2 399.0,416.8 399.5,455.1 400.0,425.3 400.5,466.5 401.0,424.8 401.5,456.4 402.0,426.0 402.5,456.6 403.0,426.3 403.5,464.8 404.0,430.5 404.5,461.1 405.0,423.9 405.5,454.8 406.0,417.5 406.5,450.6 407.0,411.6 407.5,447.5 408.0,417.1 408.5,460.0 409.0,415.7 409.5,465.6 410.0,417.7 410.5,466.9 411.0,417.8 411.5,461.5 412.0,417.6 412.5,461.7 413.0,422.1 413.5,450.7 414.0,427.3 414.5,445.2 415.0,427.6 415.5,445.8 416.0,425.9 416.5,449.4 417.0,423.4 417.5,457.8 418.0,420.8 418.5,458.4 419.0,419.3 419.5,461.7 420.0,426.0 420.5,463.9 421.0,431.2 421.5,451.9 422.0,427.6 422.5,450.6 423.0,427.5 423.5,446.1 424.0,423.9 424.5,468.8 425.0,424.2 425.5,462.5 426.0,423.4 426.5,468.2 427.0,416.8 427.5,467.8 428.0,417.3 428.5,464.6 429.0,415.9 429.5,460.0 430.0,413.2 430.5,457.5 431.0,424.7 431.5,478.5 432.0,412.3 432.5,457.6 433.0,433.8 433.5,462.3 434.0,427.8 434.5,465.9 435.0,425.8 435.5,468.9 436.0,416.6 436.5,477.0 437.0,424.7 437.5,469.7 438.0,426.7 438.5,463.5 439.0,430.3 439.5,463.1 440.0,429.8 440.5,460.2 441.0,424.9 441.5,459.0 442.0,419.6 442.5,458.2 443.0,418.8 443.5,452.2 444.0,418.6 444.5,451.3 445.0,420.1 445.5,451.9 446.0,421.6 446.5,453.2 447.0,425.5 447.5,458.5 448.0,432.3 448.5,456.7 449.0,414.9 449.5,459.7 450.0,436.7 450.5,456.5 451.0,435.0 451.5,461.3 452.0,436.4 452.5,459.5 453.0,436.8 453.5,469.0 454.0,433.9 454.5,474.2 455.0,429.9 455.5,470.9 456.0,417.1 456.5,462.8 457.0,429.3 457.5,462.1 458.0,429.2 458.5,453.3 459.0,431.0 459.5,452.1 460.0,430.6 460.5,465.8 461.0,426.7 461.5,486.9 462.0,421.1 462.5,478.9 463.0,423.6 463.5,481.8 464.0,420.1 464.5,483.8 465.0,426.5 465.5,481.5 466.0,433.3 466.5,477.6 467.0,431.9 467.5,467.2 468.0,421.3 468.5,461.4 469.0,423.6 469.5,463.8 470.0,420.0 470.5,461.0 471.0,420.1 471.5,460.4 472.0,429.5 472.5,464.9 473.0,430.5 473.5,475.5 474.0,437.0 474.5,475.8 475.0,432.9 475.5,483.1 476.0,426.7 476.5,483.0 477.0,421.7 477.5,486.9 478.0,428.2 478.5,500.2 479.0,432.8 479.5,481.4 480.0,434.1 480.5,480.0 481.0,427.8 481.5,478.1 482.0,423.7 482.5,477.9 483.0,425.9 483.5,476.2 484.0,429.4 484.5,487.4 485.0,421.1 485.5,473.5 486.0,441.5 486.5,469.5 487.0,439.5 487.5,471.5 488.0,430.0 488.5,474.0 489.0,421.8 489.5,477.0 490.0,422.2 490.5,473.0 491.0,423.6 491.5,466.5 492.0,429.8 492.5,469.5 493.0,422.9 493.5,469.9 494.0,422.1 494.5,464.7 495.0,426.7 495.5,472.5 496.0,421.3 496.5,476.3 497.0,430.7 497.5,482.3 498.0,426.8 498.5,479.7 499.0,427.9 499.5,478.8 500.0,437.8 500.5,476.1 501.0,438.5 501.5,474.7 502.0,432.8 502.5,473.4 503.0,424.9 503.5,488.4 504.0,420.1 504.5,470.8 505.0,422.2 505.5,479.6 506.0,428.8 506.5,477.2 507.0,439.4 507.5,479.8 508.0,433.4 508.5,484.2 509.0,438.5 509.5,473.1 510.0,431.4 510.5,472.7 511.0,439.5 511.5,472.1 512.0,437.3 512.5,482.5 513.0,436.0 513.5,490.6 514.0,433.4 514.5,489.1 515.0,433.2 515.5,492.2 516.0,434.1 516.5,477.7 517.0,431.7 517.5,478.3 518.0,422.6 518.5,473.6 519.0,427.1 519.5,466.0 520.0,432.3 520.5,473.4 521.0,432.7 521.5,479.5 522.0,435.9 522.5,478.5 523.0,436.3 523.5,483.5 524.0,442.1 524.5,476.5 525.0,419.8 525.5,479.8 526.0,427.5 526.5,478.8 527.0,428.4 527.5,484.0 528.0,430.9 528.5,485.1 529.0,437.0 529.5,484.9 530.0,448.8 530.5,487.6 531.0,447.5 531.5,483.8 532.0,421.2 532.5,481.4 533.0,444.0 533.5,487.3 534.0,431.8 534.5,473.3 535.0,424.5 535.5,475.4 536.0,425.8 536.5,478.8 537.0,420.5 537.5,480.5 538.0,434.5 538.5,480.1 539.0,439.9 539.5,480.5 540.0,436.6 540.5,480.1 541.0,439.6 541.5,470.5 542.0,436.2 542.5,472.6 543.0,445.0 543.5,464.5 544.0,451.0 544.5,492.1 545.0,447.7 545.5,474.3 546.0,444.0 546.5,466.4 547.0,420.0 547.5,494.4 548.0,432.7 548.5,481.3 549.0,425.8 549.5,476.9 550.0,431.9 550.5,480.6 551.0,437.7 551.5,495.8 552.0,434.2 552.5,480.5 553.0,430.4 553.5,499.0 554.0,429.2 554.5,493.6 555.0,432.6 555.5,488.6 556.0,440.0 556.5,487.4 557.0,441.5 557.5,483.3 558.0,447.1 558.5,482.8 559.0,439.0 559.5,480.6 560.0,439.1 560.5,504.3 561.0,421.1 561.5,485.9 562.0,445.0 562.5,476.0 563.0,442.9 563.5,481.9 564.0,426.3 564.5,503.9 565.0,426.3 565.5,485.1 566.0,424.6 566.5,495.8 567.0,428.2 567.5,500.6 568.0,435.9 568.5,497.6 569.0,451.3 569.5,491.7 570.0,420.8 570.5,497.5 571.0,456.3 571.5,477.8 572.0,441.3 572.5,477.3 573.0,442.5 573.5,495.4 574.0,432.8 574.5,495.6 575.0,435.3 575.5,494.9 576.0,443.5 576.5,484.9 577.0,444.4 577.5,486.5 578.0,437.9 578.5,471.8 579.0,437.0 579.5,478.2 580.0,429.6 580.5,477.2 581.0,422.0 581.5,493.2 582.0,427.7 582.5,476.4 583.0,432.0 583.5,471.3 584.0,435.8 584.5,475.0 585.0,437.5 585.5,483.9 586.0,444.1 586.5,487.8 587.0,442.7 587.5,491.7 588.0,450.8 588.5,480.2 589.0,450.2 589.5,484.1 590.0,446.7 590.5,484.2 591.0,444.1 591.5,484.2 592.0,425.8 592.5,497.8 593.0,433.4 593.5,492.9 594.0,438.0 594.5,488.8 595.0,448.1 595.5,488.7 596.0,450.6 596.5,487.2 597.0,446.2 597.5,490.3 598.0,439.2 598.5,481.1 599.0,429.4 599.5,474.4 600.0,427.6 600.5,475.6 601.0,423.2 601.5,474.0 602.0,429.2 602.5,480.7 603.0,431.2 603.5,479.1 604.0,434.2 604.5,474.1 605.0,443.1 605.5,474.5 606.0,421.2 606.5,474.6 607.0,437.5 607.5,479.0 608.0,434.4 608.5,475.3 609.0,428.9 609.5,476.2 610.0,421.0 610.5,475.9 611.0,425.9 611.5,472.1 612.0,427.7 612.5,487.2 613.0,431.7 613.5,463.8 614.0,434.6 614.5,472.9 615.0,433.4 615.5,477.8 616.0,429.9 616.5,480.2 617.0,434.8 617.5,486.9 618.0,421.2 618.5,475.9 619.0,433.9 619.5,476.3 620.0,434.4 620.5,488.3 621.0,437.2 621.5,483.8 622.0,432.4 622.5,484.7 623.0,441.2 623.5,485.0 624.0,437.1 624.5,479.9 625.0,434.4 625.5,475.4 626.0,435.7 626.5,471.7 627.0,426.0 627.5,484.9 628.0,427.1 628.5,477.8 629.0,425.3 629.5,481.5 630.0,424.9 630.5,483.7 631.0,425.0 631.5,481.7 632.0,429.5 632.5,485.2 633.0,438.9 633.5,476.8 634.0,431.6 634.5,472.6 635.0,429.8 635.5,479.9 636.0,426.9 636.5,479.2 637.0,428.6 637.5,477.5 638.0,438.4 638.5,479.4 639.0,441.1 639.5,476.1 640.0,422.7 640.5,483.6 641.0,439.3 641.5,474.0 642.0,433.4 642.5,473.3 643.0,432.9 643.5,474.7 644.0,436.4 644.5,473.7 645.0,437.8 645.5,475.9 646.0,442.6 646.5,472.7 647.0,440.8 647.5,463.2 648.0,443.7 648.5,464.1 649.0,439.1 649.5,467.2 650.0,434.5 650.5,475.0 651.0,428.2 651.5,473.7 652.0,429.6 652.5,466.7 653.0,431.0 653.5,469.5 654.0,437.5 654.5,484.5 655.0,436.9 655.5,462.5 656.0,435.9 656.5,461.3 657.0,436.9 657.5,460.2 658.0,436.7 658.5,469.9 659.0,433.4 659.5,485.3 660.0,427.4 660.5,475.6 661.0,428.5 661.5,485.1 662.0,434.5 662.5,472.1 663.0,437.4 663.5,469.9 664.0,430.1 664.5,469.4 665.0,428.1 665.5,462.8 666.0,430.4 666.5,469.7 667.0,433.4 667.5,473.8 668.0,440.7 668.5,481.3 669.0,423.8 669.5,477.6 670.0,433.7 670.5,475.6 671.0,437.3 671.5,470.3 672.0,434.5 672.5,474.6 673.0,436.6 673.5,473.6 674.0,441.6 674.5,473.9 675.0,443.1 675.5,475.4 676.0,448.9 676.5,471.2 677.0,448.4 677.5,477.7 678.0,437.9 678.5,476.9 679.0,430.9 679.5,481.2 680.0,428.5 680.5,476.3 681.0,425.9 681.5,470.1 682.0,426.9 682.5,469.8 683.0,437.0 683.5,469.3 684.0,439.6 684.5,467.2 685.0,439.2 685.5,467.5 686.0,441.2 686.5,475.2 687.0,442.1 687.5,469.0 688.0,444.5 688.5,475.7 689.0,426.6 689.5,474.4 690.0,440.2 690.5,469.3 691.0,433.0 691.5,473.0 692.0,428.7 692.5,468.2 693.0,431.0 693.5,473.3 694.0,439.7 694.5,472.8 695.0,437.9 695.5,477.4 696.0,429.9 696.5,476.3 697.0,432.3 697.5,468.2 698.0,432.7 698.5,462.0 699.0,438.9 699.5,462.6 700.0,440.8 700.5,464.5 701.0,439.3 701.5,467.0 702.0,435.4 702.5,468.9 703.0,425.4 703.5,472.7 704.0,437.7 704.5,468.4 705.0,434.5 705.5,470.2 706.0,437.2 706.5,464.9 707.0,433.4 707.5,462.2 708.0,433.9 708.5,462.7 709.0,434.2 709.5,468.2 710.0,430.4 710.5,465.7 711.0,437.3 711.5,471.1 712.0,432.1 712.5,469.8 713.0,429.7 713.5,461.7 714.0,426.0 714.5,468.8 715.0,435.4 715.5,463.2 716.0,436.6 716.5,468.8 717.0,440.4 717.5,475.6 718.0,435.8 718.5,475.9 719.0,438.6 719.5,474.2 720.0,439.0 720.5,475.9 721.0,443.3 721.5,478.2 722.0,425.5 722.5,476.8 723.0,434.8 723.5,477.3 724.0,433.0 724.5,475.3 725.0,430.3 725.5,468.6 726.0,429.9 726.5,470.5 727.0,429.7 727.5,471.0 728.0,435.7 728.5,479.3 729.0,426.4 729.5,465.2 730.0,440.0 730.5,463.7 731.0,444.7 731.5,469.8 732.0,434.5 732.5,469.1 733.0,431.0 733.5,474.2 734.0,430.7 734.5,467.9 735.0,425.3 735.5,465.5 736.0,436.3 736.5,469.3 737.0,437.8 737.5,481.2 738.0,434.3 738.5,467.2 739.0,438.8 739.5,468.1 740.0,449.6 740.5,472.2 741.0,425.9 741.5,475.6 742.0,450.5 742.5,479.4 743.0,426.2 743.5,480.1 744.0,433.5 744.5,474.2 745.0,428.3 745.5,472.0 746.0,423.8 746.5,470.1 747.0,436.1 747.5,472.2 748.0,440.0 748.5,477.2 749.0,440.6 749.5,478.4 750.0,437.1 750.5,484.1 751.0,429.5 751.5,468.8 752.0,437.2 752.5,473.4 753.0,445.2 753.5,477.8 754.0,446.8 754.5,476.7 755.0,444.4 755.5,474.0 756.0,440.7 756.5,466.4 757.0,433.4 757.5,469.6 758.0,426.0 758.5,468.5 759.0,433.2 759.5,471.2 760.0,430.6 760.5,476.4 761.0,435.9 761.5,482.9 762.0,433.8 762.5,475.5 763.0,440.1 763.5,478.7 764.0,444.1 764.5,474.4 765.0,438.4 765.5,474.0 766.0,438.0 766.5,478.6 767.0,432.3 767.5,474.3 768.0,435.7 768.5,472.1 769.0,440.2 769.5,470.9 770.0,439.9 770.5,468.9 771.0,424.9 771.5,466.6 772.0,445.8 772.5,472.9 773.0,433.3 773.5,474.4 774.0,437.1 774.5,476.3 775.0,439.5 775.5,482.8 776.0,433.0 776.5,477.1 777.0,434.8 777.5,478.8 778.0,434.4 778.5,477.8 779.0,434.6 779.5,479.6 780.0,437.9 780.5,480.9 781.0,434.6 781.5,476.9 782.0,437.7 782.5,484.2 783.0,433.8 783.5,470.1 784.0,439.4 784.5,475.8 785.0,437.3 785.5,472.5 786.0,441.1 786.5,478.5 787.0,441.2 787.5,481.0 788.0,435.3 788.5,478.2 789.0,440.5 789.5,474.2 790.0,430.5 790.5,463.7 791.0,430.8 791.5,466.2 792.0,429.7 792.5,462.7 793.0,431.8 793.5,473.5 794.0,435.3 794.5,469.2 795.0,439.0 795.5,479.0 796.0,424.9 796.5,470.9 797.0,436.6 797.5,475.2 798.0,432.4 798.5,476.3 799.0,426.3 799.5,478.8 800.0,426.2 800.5,480.4 801.0,429.4 801.5,477.7 802.0,427.8 802.5,479.7 803.0,430.9 803.5,470.9 804.0,432.9 804.5,474.6 805.0,431.3 805.5,467.6 806.0,440.2 806.5,468.1 807.0,427.9 807.5,465.4 808.0,437.1 808.5,466.4 809.0,441.4 809.5,470.5 810.0,442.0 810.5,468.3 811.0,444.9 811.5,474.0 812.0,446.7 812.5,476.6 813.0,441.7 813.5,476.5 814.0,435.4 814.5,480.1 815.0,435.7 815.5,475.5 816.0,427.2 816.5,484.5 817.0,424.2 817.5,472.1 818.0,429.2 818.5,484.4 819.0,427.0 819.5,475.0 820.0,427.9 820.5,476.7 821.0,430.6 821.5,476.4 822.0,432.0 822.5,476.0 823.0,427.0 823.5,477.8 824.0,439.0 824.5,478.8 825.0,438.1 825.5,474.3 826.0,437.6 826.5,475.5 827.0,434.6 827.5,473.8 828.0,435.8 828.5,470.7 829.0,435.8 829.5,481.5 830.0,424.9 830.5,473.5 831.0,439.3 831.5,467.9 832.0,424.8 832.5,465.4 833.0,433.8 833.5,464.2 834.0,431.0 834.5,468.2 835.0,427.2 835.5,470.8 836.0,430.7 836.5,465.8 837.0,433.4 837.5,471.6 838.0,425.6 838.5,472.5 839.0,436.7 839.5,477.2 840.0,432.1 840.5,480.9 841.0,431.5 841.5,472.5 842.0,439.9 842.5,485.2 843.0,438.3 843.5,459.9 844.0,440.7 844.5,482.9 845.0,423.5 845.5,463.1 846.0,442.4 846.5,483.7 847.0,445.9 847.5,465.4 848.0,438.6 848.5,473.0 849.0,433.3 849.5,471.4 850.0,438.0 850.5,469.3 851.0,438.4 851.5,468.4 852.0,441.4 852.5,461.5 853.0,447.2 853.5,468.0 854.0,424.2 854.5,468.9 855.0,433.0 855.5,467.4 856.0,427.0 856.5,467.6 857.0,426.9 857.5,464.4 858.0,435.2 858.5,463.9 859.0,432.4 859.5,468.4 860.0,439.4 860.5,468.8 861.0,437.5 861.5,481.6 862.0,435.0 862.5,460.5 863.0,435.5 863.5,466.2 864.0,436.1 864.5,475.3 865.0,433.8 865.5,480.2 866.0,434.8 866.5,477.5 867.0,427.3 867.5,479.8 868.0,428.6 868.5,484.6 869.0,425.6 869.5,482.4 870.0,427.5 870.5,478.3 871.0,431.8 871.5,470.7 872.0,437.2 872.5,465.7 873.0,439.3 873.5,472.3 874.0,436.3 874.5,470.4 875.0,434.8 875.5,481.6 876.0,434.1 876.5,468.2 877.0,432.7 877.5,462.6 878.0,436.1 878.5,467.6 879.0,439.3 879.5,472.9 880.0,443.7 880.5,475.1 881.0,423.8 881.5,482.1 882.0,442.3 882.5,479.2 883.0,435.6 883.5,477.4 884.0,446.6 884.5,471.8 885.0,447.6 885.5,473.4 886.0,444.0 886.5,476.9 887.0,423.9 887.5,475.5 888.0,434.8 888.5,472.5 889.0,432.3 889.5,470.3 890.0,442.3 890.5,479.7 891.0,442.5 891.5,479.4 892.0,425.9 892.5,479.7 893.0,434.3 893.5,482.1 894.0,433.1 894.5,481.4 895.0,426.7 895.5,473.7 896.0,426.6 896.5,467.4 897.0,425.0 897.5,472.2 898.0,435.8 898.5,474.4 899.0,441.2 899.5,481.9 900.0,438.8 900.5,472.5 901.0,439.3 901.5,473.4 902.0,435.1 902.5,468.8 903.0,425.9 903.5,469.7 904.0,420.3 904.5,476.9 905.0,434.6 905.5,471.2 906.0,428.9 906.5,465.2 907.0,423.5 907.5,484.7 908.0,428.3 908.5,457.7 909.0,424.3 909.5,468.3 910.0,420.1 910.5,470.7 911.0,423.6 911.5,470.0 912.0,429.5 912.5,474.6 913.0,429.2 913.5,472.4 914.0,435.7 914.5,464.0 915.0,440.4 915.5,471.8 916.0,434.7 916.5,473.5 917.0,429.0 917.5,471.5 918.0,431.2 918.5,466.2 919.0,429.1 919.5,460.3 920.0,428.6 920.5,464.7 921.0,428.2 921.5,462.2 922.0,431.5 922.5,468.5 923.0,435.0 923.5,476.7 924.0,418.3 924.5,464.5 925.0,438.9 925.5,467.4 926.0,432.0 926.5,467.1 927.0,422.5 927.5,462.3 928.0,425.6 928.5,468.1 929.0,421.5 929.5,466.6 930.0,410.6 930.5,467.7 931.0,426.4 931.5,463.5 932.0,417.2 932.5,468.8 933.0,420.8 933.5,449.8 934.0,417.4 934.5,447.2 935.0,416.8 935.5,445.2 936.0,417.1"/>
<polyline fill="none" stroke="#CC00CC" stroke-width="4.6" stroke-linejoin="round" stroke-linecap="round" points="119.0,381.3 119.5,400.6 120.0,381.5 120.5,404.3 121.0,377.1 121.5,399.4 122.0,368.2 122.5,403.3 123.0,368.7 123.5,402.6 124.0,368.5 124.5,408.7 125.0,370.1 125.5,413.2 126.0,368.4 126.5,419.4 127.0,368.5 127.5,416.5 128.0,377.0 128.5,406.8 129.0,373.1 129.5,408.4 130.0,365.1 130.5,412.2 131.0,366.5 131.5,411.3 132.0,366.9 132.5,408.7 133.0,369.2 133.5,400.4 134.0,380.5 134.5,398.1 135.0,374.9 135.5,400.6 136.0,356.7 136.5,401.7 137.0,371.3 137.5,403.9 138.0,359.4 138.5,408.1 139.0,368.7 139.5,416.6 140.0,366.9 140.5,414.8 141.0,361.9 141.5,410.6 142.0,364.7 142.5,405.4 143.0,357.7 143.5,398.0 144.0,348.0 144.5,392.4 145.0,349.3 145.5,387.8 146.0,339.8 146.5,392.0 147.0,347.1 147.5,411.7 148.0,350.6 148.5,396.0 149.0,338.6 149.5,399.0 150.0,340.7 150.5,393.8 151.0,342.0 151.5,388.9 152.0,346.4 152.5,390.3 153.0,350.9 153.5,409.1 154.0,344.1 154.5,389.4 155.0,357.0 155.5,402.2 156.0,350.8 156.5,396.9 157.0,349.5 157.5,402.9 158.0,354.8 158.5,400.6 159.0,352.7 159.5,406.9 160.0,353.8 160.5,400.8 161.0,355.8 161.5,399.4 162.0,354.9 162.5,407.7 163.0,353.4 163.5,397.7 164.0,354.8 164.5,392.1 165.0,332.9 165.5,386.5 166.0,345.1 166.5,387.1 167.0,344.5 167.5,382.8 168.0,338.1 168.5,391.3 169.0,342.8 169.5,394.1 170.0,344.1 170.5,386.3 171.0,346.2 171.5,387.0 172.0,332.4 172.5,380.8 173.0,329.1 173.5,388.8 174.0,323.4 174.5,381.6 175.0,323.3 175.5,382.2 176.0,323.9 176.5,387.7 177.0,325.9 177.5,391.5 178.0,333.6 178.5,395.4 179.0,328.0 179.5,393.0 180.0,312.2 180.5,387.6 181.2,310.3 181.5,375.1 182.0,338.9 182.5,378.2 183.0,343.5 183.5,382.7 184.0,346.4 184.5,381.4 185.0,338.7 185.5,383.6 186.0,322.4 186.5,388.3 187.0,337.8 187.5,391.1 188.0,330.8 188.5,393.9 189.0,338.3 189.5,395.4 190.0,332.5 190.5,391.2 191.0,333.4 191.5,383.9 192.0,323.1 192.5,385.4 193.0,351.6 193.5,384.7 194.0,351.4 194.5,391.3 195.0,349.4 195.5,394.5 196.0,339.1 196.5,395.0 197.0,341.2 197.5,384.3 198.0,346.4 198.5,387.4 199.0,328.6 199.5,391.5 200.0,335.8 200.5,391.9 201.0,330.6 201.5,393.8 202.0,343.0 202.5,396.5 203.0,328.9 203.5,394.1 204.0,323.2 204.5,398.4 205.0,318.8 205.5,397.7 205.8,316.8 206.5,395.5 207.0,332.8 207.5,392.9 208.0,351.3 208.5,389.5 209.0,354.9 209.5,393.0 210.0,357.7 210.5,397.9 211.0,362.2 211.5,397.4 212.0,341.3 212.5,396.1 213.0,372.1 213.5,400.0 214.0,369.2 214.5,400.5 215.0,362.6 215.5,404.1 216.0,358.4 216.5,411.9 217.0,359.9 217.5,412.2 218.0,359.4 218.5,409.1 219.0,369.6 219.5,412.1 220.0,365.0 220.5,410.7 221.0,363.6 221.5,411.5 222.0,368.4 222.5,404.8 223.0,365.0 223.5,410.8 224.0,372.5 224.5,409.0 225.0,370.5 225.5,415.4 226.0,380.1 226.5,421.7 227.0,368.8 227.5,422.2 228.0,373.1 228.5,424.6 229.0,373.1 229.5,411.4 230.0,359.1 230.5,418.7 231.0,370.9 231.5,418.7 232.0,372.4 232.5,418.8 233.0,367.8 233.5,418.4 234.0,367.8 234.5,422.3 235.0,364.1 235.5,422.7 236.0,367.7 236.5,419.7 237.0,359.7 237.5,421.4 238.0,368.3 238.5,411.9 239.0,376.4 239.5,415.3 240.0,375.7 240.5,405.6 241.0,372.3 241.5,421.4 242.0,382.5 242.5,415.9 243.0,381.8 243.5,421.5 244.0,376.7 244.5,423.8 245.0,375.1 245.5,415.7 246.0,366.2 246.5,428.5 247.0,363.5 247.5,428.1 248.0,373.8 248.5,438.3 249.0,377.7 249.5,434.1 250.0,383.2 250.5,426.7 251.0,378.2 251.5,436.3 252.0,375.0 252.5,432.8 253.0,368.9 253.5,428.9 254.0,361.2 254.5,438.4 255.0,375.7 255.5,434.7 256.0,372.1 256.5,433.7 257.0,369.8 257.5,422.7 258.0,370.8 258.5,416.0 259.0,382.0 259.5,415.0 260.0,382.3 260.5,445.5 261.0,381.2 261.5,414.4 262.0,369.6 262.5,410.6 263.0,379.5 263.5,424.6 264.0,377.6 264.5,428.6 265.0,393.8 265.5,435.2 266.0,391.4 266.5,431.1 267.0,355.0 267.5,444.4 268.0,389.8 268.5,424.5 269.0,379.4 269.5,434.0 270.0,374.3 270.5,422.8 271.0,381.3 271.5,438.0 272.0,376.5 272.5,437.1 273.0,369.6 273.5,441.9 274.0,370.9 274.5,437.3 275.0,372.9 275.5,435.0 276.0,368.9 276.5,420.6 277.0,349.3 277.5,419.3 278.0,366.5 278.5,418.2 279.0,375.2 279.5,416.5 280.0,378.7 280.5,434.8 281.0,382.2 281.5,428.2 282.0,365.4 282.5,424.8 283.0,361.2 283.5,418.8 284.0,360.8 284.5,409.4 285.0,359.4 285.5,410.4 286.0,354.6 286.5,440.6 287.0,359.1 287.5,426.1 288.0,354.0 288.5,424.7 289.0,353.9 289.5,428.0 290.0,350.1 290.5,433.9 291.0,352.3 291.5,419.2 292.0,356.8 292.5,420.9 293.0,362.3 293.5,419.5 294.0,366.5 294.5,434.1 295.0,369.8 295.5,419.2 296.0,343.1 296.5,426.8 297.0,358.1 297.5,411.8 298.0,353.8 298.5,437.9 299.0,358.1 299.5,428.2 300.0,362.7 300.5,423.7 301.0,359.7 301.5,424.3 302.0,366.7 302.5,414.4 303.0,335.8 303.5,416.7 304.0,357.0 304.5,433.6 305.0,351.4 305.5,417.2 306.0,349.6 306.5,419.0 307.0,354.1 307.5,429.2 308.0,350.1 308.5,413.7 309.0,356.9 309.5,412.4 310.0,355.9 310.5,420.6 311.0,365.3 311.5,419.5 312.0,348.7 312.5,428.4 313.0,342.2 313.5,428.7 314.0,346.9 314.5,423.1 315.0,349.9 315.5,417.8 316.0,351.6 316.5,417.8 317.0,354.9 317.5,422.1 318.0,353.4 318.5,430.1 319.0,351.0 319.5,430.4 320.0,363.1 320.5,431.9 321.0,367.7 321.5,432.7 322.0,362.9 322.5,441.7 323.0,366.9 323.5,433.1 324.0,355.6 324.5,430.0 325.0,359.4 325.5,421.9 326.0,353.5 326.5,430.0 327.0,362.5 327.5,434.6 328.0,371.8 328.5,440.8 329.0,375.0 329.5,447.7 330.0,372.3 330.5,446.5 331.0,376.1 331.5,446.9 332.0,369.0 332.5,450.9 333.0,372.3 333.5,445.5 334.0,364.0 334.5,442.5 335.0,372.6 335.5,443.4 336.0,374.9 336.5,424.9 337.0,372.8 337.5,426.1 338.0,381.0 338.5,425.2 339.0,365.5 339.5,430.7 340.0,384.6 340.5,446.1 341.0,377.3 341.5,451.6 342.0,378.1 342.5,443.9 343.0,364.8 343.5,456.1 344.0,387.3 344.5,453.7 345.0,374.0 345.5,443.1 346.0,377.9 346.5,444.0 347.0,386.9 347.5,431.9 348.0,387.6 348.5,437.3 349.0,393.2 349.5,440.6 350.0,400.1 350.5,432.9 351.0,391.6 351.5,426.1 352.0,387.1 352.5,416.4 353.0,378.4 353.5,414.6 354.0,376.0 354.5,417.2 355.0,360.8 355.5,421.1 356.0,376.8 356.5,431.4 357.0,379.7 357.5,439.4 358.0,378.8 358.5,449.0 359.0,369.9 359.5,438.3 360.0,375.1 360.5,420.2 361.0,374.0 361.5,420.6 362.0,377.7 362.5,453.6 363.0,378.1 363.5,426.6 364.0,387.0 364.5,432.4 365.0,387.9 365.5,435.1 366.0,386.0 366.5,447.2 367.0,364.9 367.5,450.5 368.0,376.5 368.5,449.5 369.0,381.5 369.5,441.0 370.0,380.2 370.5,441.6 371.0,373.4 371.5,423.2 372.0,380.6 372.5,431.2 373.0,392.0 373.5,435.8 374.0,395.5 374.5,428.3 375.0,396.6 375.5,427.1 376.0,387.0 376.5,415.0 377.0,386.6 377.5,425.9 378.0,357.6 378.5,431.3 379.0,384.9 379.5,447.4 380.0,376.0 380.5,433.2 381.0,365.1 381.5,430.1 382.0,362.8 382.5,433.4 383.0,362.8 383.5,424.8 384.0,361.3 384.5,431.6 385.0,369.2 385.5,435.3 386.0,389.9 386.5,448.6 387.0,395.2 387.5,430.9 388.0,397.4 388.5,426.7 389.0,389.8 389.5,426.2 390.0,377.7 390.5,426.0 391.0,361.0 391.5,429.2 392.0,369.2 392.5,444.7 393.0,363.1 393.5,436.7 394.0,363.9 394.5,429.8 395.0,360.8 395.5,436.9 396.0,364.6 396.5,421.6 397.0,367.6 397.5,425.7 398.0,375.5 398.5,429.2 399.0,384.9 399.5,436.5 400.0,373.9 400.5,414.0 401.0,374.2 401.5,404.9 402.0,375.9 402.5,405.5 403.0,374.7 403.5,415.0 404.0,377.2 404.5,417.7 405.0,387.0 405.5,419.2 406.0,388.6 406.5,420.0 407.0,382.2 407.5,417.9 408.0,385.8 408.5,427.3 409.0,376.3 409.5,420.5 410.0,371.2 410.5,411.3 411.0,367.3 411.5,419.5 412.0,363.9 412.5,409.5 413.0,367.5 413.5,414.1 414.0,370.5 414.5,416.9 415.0,378.2 415.5,424.4 416.0,379.8 416.5,424.9 417.0,377.9 417.5,430.4 418.0,374.4 418.5,437.1 419.0,362.2 419.5,438.5 420.0,368.4 420.5,440.4 421.0,369.7 421.5,436.9 422.0,368.4 422.5,436.8 423.0,373.9 423.5,431.1 424.0,378.1 424.5,443.6 425.0,368.5 425.5,444.0 426.0,387.9 426.5,443.6 427.0,378.8 427.5,441.6 428.0,377.9 428.5,444.3 429.0,378.4 429.5,437.7 430.0,371.0 430.5,445.1 431.0,382.0 431.5,434.1 432.0,375.9 432.5,430.3 433.0,378.6 433.5,437.0 434.0,391.6 434.5,421.1 435.0,385.0 435.5,436.5 436.0,393.0 436.5,439.1 437.0,392.8 437.5,437.8 438.0,391.0 438.5,446.0 439.0,397.1 439.5,429.6 440.0,404.0 440.5,430.2 441.0,405.7 441.5,433.9 442.0,399.7 442.5,438.9 443.0,397.8 443.5,442.5 444.0,388.4 444.5,441.9 445.0,393.8 445.5,444.9 446.0,402.8 446.5,437.8 447.0,387.1 447.5,447.0 448.0,402.9 448.5,444.9 449.0,395.1 449.5,434.9 450.0,399.8 450.5,438.4 451.0,394.4 451.5,439.5 452.0,392.1 452.5,436.5 453.0,401.3 453.5,443.8 454.0,388.7 454.5,446.7 455.0,402.3 455.5,446.5 456.0,397.0 456.5,446.7 457.0,399.4 457.5,446.7 458.0,398.9 458.5,447.1 459.0,399.2 459.5,447.8 460.0,394.1 460.5,441.2 461.0,394.9 461.5,441.7 462.0,389.9 462.5,445.1 463.0,383.5 463.5,437.6 464.0,390.8 464.5,447.0 465.0,388.5 465.5,431.4 466.0,395.4 466.5,436.9 467.0,383.8 467.5,430.7 468.0,381.5 468.5,430.5 469.0,377.2 469.5,429.3 470.0,382.1 470.5,428.4 471.0,379.0 471.5,438.7 472.0,363.3 472.5,429.7 473.0,380.7 473.5,423.8 474.0,376.5 474.5,416.9 475.0,378.0 475.5,414.3 476.0,373.7 476.5,427.3 477.0,369.2 477.5,426.7 478.0,384.0 478.5,429.4 479.0,392.4 479.5,427.6 480.0,373.5 480.5,439.3 481.0,386.9 481.5,444.9 482.0,383.3 482.5,446.7 483.0,389.8 483.5,437.8 484.0,382.4 484.5,437.1 485.0,388.9 485.5,443.3 486.0,391.3 486.5,444.7 487.0,394.7 487.5,447.1 488.0,395.3 488.5,449.6 489.0,394.7 489.5,446.7 490.0,398.0 490.5,441.5 491.0,400.1 491.5,449.6 492.0,384.2 492.5,440.1 493.0,397.9 493.5,440.3 494.0,401.9 494.5,440.9 495.0,400.8 495.5,442.5 496.0,382.6 496.5,440.5 497.0,393.4 497.5,439.2 498.0,395.6 498.5,446.5 499.0,394.2 499.5,444.1 500.0,391.0 500.5,446.0 501.0,390.1 501.5,446.5 502.0,369.7 502.5,427.8 503.0,386.0 503.5,416.6 504.0,377.1 504.5,427.5 505.0,365.6 505.5,439.4 506.0,374.1 506.5,449.3 507.0,377.5 507.5,452.6 508.0,384.6 508.5,454.1 509.0,389.0 509.5,437.4 510.0,395.1 510.5,436.5 511.0,404.5 511.5,443.3 512.0,406.6 512.5,454.9 513.0,410.7 513.5,455.8 514.0,415.6 514.5,453.3 515.0,413.9 515.5,448.3 516.0,404.3 516.5,451.8 517.0,401.5 517.5,451.2 518.0,400.4 518.5,454.2 519.0,402.5 519.5,454.5 520.0,413.6 520.5,465.1 521.0,426.9 521.5,468.9 522.0,407.9 522.5,494.7 523.0,436.6 523.5,479.4 524.0,420.5 524.5,484.8 525.0,444.7 525.5,485.7 526.0,445.6 526.5,492.0 527.0,451.7 527.5,494.8 528.0,450.9 528.5,492.5 529.0,454.7 529.5,509.6 530.0,454.3 530.5,500.5 531.0,465.4 531.5,503.4 532.0,462.6 532.5,511.2 533.0,465.1 533.5,510.5 534.0,460.3 534.5,506.9 535.0,461.1 535.5,506.6 536.0,460.2 536.5,517.9 537.0,454.1 537.5,508.8 538.0,446.0 538.5,513.7 539.0,448.8 539.5,512.3 540.0,450.5 540.5,505.0 541.0,451.4 541.5,495.7 542.0,450.3 542.5,511.0 543.0,456.2 543.5,508.3 544.0,460.7 544.5,504.8 545.0,463.5 545.5,501.9 546.0,463.2 546.5,493.4 547.0,445.2 547.5,491.5 548.0,456.2 548.5,485.5 549.0,453.2 549.5,498.3 550.0,455.8 550.5,483.0 551.0,457.0 551.5,476.3 552.0,456.8 552.5,483.7 553.0,456.7 553.5,482.6 554.0,453.1 554.5,485.9 555.0,459.1 555.5,484.4 556.0,456.6 556.5,486.9 557.0,456.7 557.5,479.5 558.0,451.0 558.5,477.6 559.0,447.0 559.5,485.2 560.0,451.3 560.5,483.5 561.0,446.5 561.5,477.9 562.0,457.3 562.5,476.1 563.0,456.0 563.5,483.7 564.0,454.4 564.5,478.1 565.0,449.9 565.5,481.1 566.0,449.3 566.5,477.2 567.0,447.8 567.5,478.1 568.0,453.4 568.5,479.1 569.0,458.4 569.5,489.1 570.0,459.7 570.5,483.1 571.0,461.6 571.5,482.8 572.0,461.7 572.5,489.6 573.0,457.5 573.5,488.6 574.0,453.7 574.5,485.5 575.0,451.8 575.5,485.7 576.0,454.2 576.5,478.4 577.0,453.8 577.5,483.1 578.0,460.2 578.5,476.3 579.0,452.7 579.5,469.9 580.0,451.7 580.5,468.0 581.0,452.5 581.5,463.9 582.0,444.9 582.5,460.1 583.0,447.2 583.5,466.0 584.0,447.0 584.5,461.7 585.0,445.2 585.5,461.4 586.0,446.0 586.5,463.1 587.0,447.8 587.5,463.6 588.0,445.7 588.5,459.8 589.0,445.4 589.5,460.0 590.0,447.3 590.5,456.7 591.0,447.1 591.5,459.1 592.0,449.1 592.5,461.9 593.0,445.6 593.5,463.7 594.0,449.5 594.5,462.2 595.0,450.1 595.5,464.3 596.0,444.2 596.5,467.9 597.0,448.6 597.5,468.5 598.0,448.7 598.5,467.9 599.0,448.4 599.5,467.2 600.0,447.5 600.5,469.5 601.0,445.8 601.5,468.9 602.0,447.0 602.5,468.1 603.0,446.9 603.5,466.4 604.0,449.8 604.5,469.5 605.0,449.3 605.5,467.3 606.0,450.6 606.5,469.9 607.0,444.2 607.5,466.1 608.0,446.6 608.5,464.9 609.0,445.9 609.5,467.1 610.0,445.6 610.5,466.3 611.0,446.1 611.5,466.4 612.0,445.5 612.5,468.7 613.0,446.5 613.5,468.0 614.0,446.1 614.5,467.0 615.0,447.2 615.5,466.6 616.0,447.9 616.5,465.8 617.0,449.8 617.5,469.3 618.0,444.6 618.5,477.9 619.0,457.0 619.5,483.9 620.0,457.3 620.5,486.0 621.0,448.6 621.5,493.1 622.0,444.9 622.5,497.8 623.0,445.8 623.5,504.7 624.0,438.6 624.5,501.1 625.0,448.8 625.5,495.9 626.0,448.5 626.5,495.3 627.0,453.0 627.5,503.6 628.0,456.0 628.5,505.6 629.0,455.7 629.5,510.1 630.0,453.1 630.5,505.9 631.0,462.2 631.5,506.4 632.0,464.5 632.5,501.0 633.0,470.7 633.5,502.9 634.0,459.3 634.5,505.4 635.0,457.1 635.5,507.3 636.0,450.0 636.5,499.2 637.0,451.7 637.5,496.8 638.0,454.8 638.5,503.4 639.0,459.7 639.5,507.7 640.0,457.5 640.5,509.3 641.0,464.3 641.5,511.0 642.0,438.6 642.5,498.2 643.0,468.4 643.5,504.1 644.0,470.4 644.5,495.3 645.0,460.9 645.5,500.0 646.0,454.3 646.5,497.5 647.0,458.4 647.5,503.1 648.0,452.5 648.5,524.6 649.0,438.0 649.5,505.3 650.0,464.3 650.5,511.1 651.0,454.8 651.5,511.1 652.0,447.5 652.5,516.3 653.0,438.7 653.5,499.1 654.0,456.1 654.5,481.1 655.0,456.9 655.5,504.7 656.0,454.9 656.5,488.3 657.0,457.0 657.5,492.2 658.0,450.0 658.5,498.6 659.0,447.4 659.5,500.9 660.0,443.0 660.5,495.6 661.0,445.4 661.5,496.1 662.0,447.6 662.5,494.5 663.0,455.3 663.5,501.6 664.0,452.1 664.5,502.4 665.0,450.7 665.5,497.1 666.0,460.4 666.5,498.5 667.0,454.1 667.5,504.7 668.0,455.5 668.5,510.6 669.0,455.2 669.5,516.8 670.0,459.6 670.5,496.6 671.0,461.1 671.5,501.3 672.0,459.8 672.5,509.1 673.0,454.8 673.5,508.4 674.0,450.8 674.5,510.9 675.0,453.4 675.5,510.9 676.0,446.9 676.5,500.6 677.0,459.7 677.5,496.4 678.0,461.9 678.5,523.7 679.0,459.5 679.5,492.0 680.0,458.9 680.5,495.3 681.0,459.8 681.5,504.1 682.0,446.4 682.5,526.5 683.0,440.5 683.5,509.5 684.0,446.5 684.5,511.6 685.0,444.3 685.5,500.8 686.0,441.2 686.5,496.0 687.0,448.8 687.5,492.3 688.0,451.0 688.5,484.1 689.0,452.3 689.5,506.2 690.0,452.5 690.5,481.1 691.0,453.9 691.5,494.0 692.0,442.8 692.5,505.1 693.0,453.8 693.5,512.3 694.0,454.8 694.5,508.1 695.0,460.9 695.5,505.5 696.0,452.5 696.5,500.7 697.0,458.2 697.5,515.3 698.0,457.5 698.5,498.5 699.0,444.2 699.5,503.4 700.0,447.2 700.5,503.1 701.0,447.5 701.5,502.8 702.0,447.7 702.5,497.1 703.0,452.7 703.5,483.8 704.0,454.8 704.5,481.4 705.0,460.7 705.5,481.7 706.0,467.9 706.5,484.2 707.0,467.9 707.5,493.9 708.0,467.5 708.5,495.3 709.0,458.4 709.5,493.2 710.0,469.9 710.5,493.6 711.0,467.9 711.5,485.7 712.0,461.6 712.5,485.0 713.0,462.0 713.5,480.6 714.0,459.0 714.5,483.0 715.0,450.4 715.5,480.6 716.0,455.5 716.5,482.8 717.0,449.0 717.5,483.8 718.0,449.1 718.5,483.2 719.0,449.0 719.5,487.7 720.0,453.5 720.5,486.4 721.0,453.7 721.5,512.1 722.0,455.6 722.5,495.0 723.0,461.7 723.5,497.7 724.0,459.7 724.5,496.6 725.0,458.1 725.5,487.4 726.0,449.7 726.5,489.5 727.0,449.3 727.5,486.3 728.0,451.6 728.5,492.3 729.0,452.5 729.5,501.3 730.0,457.2 730.5,500.2 731.0,454.7 731.5,512.4 732.0,449.0 732.5,510.9 733.0,454.4 733.5,503.7 734.0,463.4 734.5,497.8 735.0,464.5 735.5,499.3 736.0,465.1 736.5,497.2 737.0,462.3 737.5,501.5 738.0,447.3 738.5,500.5 739.0,456.0 739.5,506.7 740.0,463.5 740.5,507.7 741.0,471.2 741.5,512.4 742.0,461.1 742.5,510.3 743.0,456.1 743.5,521.4 744.0,453.8 744.5,516.1 745.0,458.5 745.5,510.7 746.0,456.0 746.5,509.3 747.0,460.1 747.5,505.0 748.0,456.2 748.5,510.0 749.0,463.9 749.5,512.4 750.0,462.8 750.5,516.9 751.0,467.2 751.5,517.6 752.0,469.4 752.5,525.6 753.0,474.9 753.7,540.3 754.0,473.2 754.5,523.7 755.0,478.9 755.5,523.0 756.0,475.8 756.5,529.0 757.0,481.7 757.5,523.0 758.0,475.6 758.5,518.6 759.0,460.7 759.5,524.4 760.0,468.2 760.5,517.4 761.0,473.0 761.5,516.1 762.0,472.7 762.5,515.1 763.0,471.6 763.5,504.0 764.0,472.0 764.5,498.0 765.0,474.1 765.5,502.1 766.0,471.0 766.5,499.7 767.0,472.4 767.5,520.5 768.0,462.2 768.5,497.7 769.0,462.1 769.5,499.5 770.0,463.4 770.5,506.4 771.0,466.9 771.5,513.7 772.0,464.6 772.5,514.7 773.0,459.2 773.5,513.4 774.0,463.0 774.5,531.5 775.0,465.9 775.5,510.6 776.0,455.0 776.5,513.1 777.0,469.9 777.5,530.7 778.0,477.6 778.5,525.7 779.0,469.6 779.5,519.3 780.0,469.4 780.5,516.6 781.0,465.1 781.5,514.2 782.0,472.6 782.5,509.7 783.0,451.7 783.5,493.7 784.0,460.8 784.5,491.1 785.0,468.8 785.5,493.1 786.0,463.1 786.5,497.4 787.0,470.7 787.5,502.8 788.0,474.8 788.5,503.0 789.0,477.6 789.5,509.2 790.0,467.1 790.5,518.3 791.0,467.3 791.5,525.9 792.0,468.3 792.5,524.7 793.0,463.8 793.5,523.7 794.0,470.3 794.5,522.7 795.0,472.6 795.5,521.1 796.0,466.7 796.5,516.0 797.0,471.3 797.5,513.7 798.0,474.9 798.5,510.0 799.0,465.5 799.5,510.8 800.0,464.6 800.5,510.2 801.0,461.4 801.5,504.3 802.0,456.3 802.5,494.6 803.0,467.4 803.5,485.3 804.0,466.5 804.5,482.7 805.0,465.1 805.5,501.8 806.0,463.1 806.5,483.5 807.0,460.5 807.5,493.2 808.0,461.3 808.5,500.3 809.0,461.1 809.5,504.4 810.0,465.4 810.5,516.5 811.0,463.3 811.5,504.6 812.0,461.9 812.5,505.7 813.0,464.9 813.5,505.7 814.0,469.1 814.5,511.9 815.0,463.6 815.5,511.2 816.0,455.0 816.5,507.0 817.0,450.7 817.5,496.4 818.0,459.3 818.5,491.3 819.0,467.4 819.5,497.1 820.0,475.7 820.5,513.7 821.0,477.1 821.5,496.9 822.0,471.3 822.5,500.7 823.0,469.0 823.5,507.7 824.0,457.3 824.5,507.6 825.0,458.2 825.5,514.8 826.0,466.2 826.5,510.7 827.0,471.7 827.5,515.2 828.0,474.0 828.5,519.5 829.0,481.7 829.5,521.1 830.0,481.6 830.5,525.2 831.0,480.4 831.5,521.3 832.0,478.5 832.5,510.7 833.0,462.0 833.5,517.9 834.0,470.5 834.5,501.8 835.0,470.7 835.5,496.2 836.0,470.6 836.5,496.6 837.0,469.8 837.5,493.5 838.0,475.1 838.5,493.9 839.0,476.8 839.5,498.6 840.0,476.0 840.5,503.0 841.0,478.4 841.5,513.6 842.0,473.4 842.5,513.6 843.0,465.3 843.5,507.5 844.0,466.7 844.5,503.7 845.0,461.5 845.5,502.5 846.0,465.6 846.5,502.6 847.0,460.6 847.5,504.1 848.0,461.8 848.5,502.7 849.0,461.0 849.5,501.3 850.0,463.6 850.5,502.0 851.0,467.8 851.5,498.1 852.0,471.0 852.5,510.2 853.0,469.9 853.5,501.9 854.0,458.9 854.5,510.1 855.0,468.7 855.5,509.2 856.0,469.7 856.5,510.8 857.0,467.3 857.5,514.3 858.0,472.5 858.5,514.1 859.0,481.4 859.5,513.6 860.0,481.0 860.5,516.3 861.0,473.7 861.5,517.3 862.0,472.0 862.5,516.6 863.0,471.7 863.5,517.6 864.0,475.6 864.5,524.3 865.0,480.7 865.5,509.6 866.0,478.1 866.5,515.1 867.0,469.1 867.5,521.7 868.0,470.4 868.5,522.3 869.0,466.5 869.5,519.4 870.0,477.1 870.5,522.4 871.0,459.6 871.5,498.8 872.0,479.7 872.5,507.3 873.0,476.6 873.5,516.6 874.0,470.6 874.5,510.4 875.0,466.9 875.5,517.2 876.0,459.4 876.5,510.5 877.0,468.3 877.5,517.7 878.0,469.0 878.5,512.4 879.0,466.4 879.5,508.4 880.0,464.2 880.5,501.9 881.0,460.0 881.5,511.0 882.0,468.4 882.5,505.5 883.0,462.9 883.5,509.7 884.0,468.5 884.5,507.8 885.0,468.9 885.5,521.4 886.0,470.4 886.5,506.4 887.0,466.1 887.5,499.0 888.0,461.6 888.5,505.3 889.0,469.5 889.5,505.6 890.0,468.5 890.5,511.4 891.0,466.2 891.5,510.2 892.0,464.9 892.5,504.2 893.0,470.1 893.5,507.4 894.0,466.5 894.5,510.0 895.0,467.9 895.5,511.8 896.0,474.0 896.5,511.7 897.0,476.5 897.5,517.0 898.0,483.2 898.5,516.3 899.0,482.2 899.5,516.5 900.0,463.2 900.5,514.7 901.0,484.4 901.5,512.4 902.0,481.4 902.5,517.5 903.0,462.9 903.5,520.0 904.0,480.6 904.5,520.1 905.0,476.1 905.5,525.4 906.0,481.8 906.5,523.1 907.0,472.1 907.5,528.1 908.0,475.5 908.5,531.2 909.0,459.5 909.5,514.9 910.0,474.0 910.5,514.7 911.0,459.4 911.5,508.2 912.0,469.1 912.5,507.4 913.0,461.2 913.5,508.3 914.0,469.5 914.5,504.0 915.0,469.3 915.5,503.5 916.0,471.1 916.5,504.9 917.0,465.1 917.5,509.9 918.0,461.7 918.5,518.5 919.0,462.1 919.5,513.3 920.0,469.3 920.5,516.8 921.0,472.7 921.5,519.8 922.0,469.4 922.5,519.0 923.0,483.4 923.5,523.5 924.0,458.3 924.5,521.4 925.0,477.8 925.5,522.9 926.0,467.5 926.5,516.6 927.0,461.2 927.5,510.0 928.0,460.7 928.5,507.4 929.0,464.3 929.5,507.8 930.0,473.1 930.5,508.3 931.0,476.7 931.5,514.3 932.0,475.5 932.5,510.1 933.0,472.3 933.5,517.5 934.0,474.5 934.5,510.5 935.0,469.5 935.5,501.6 936.0,468.0"/>
<polyline fill="none" stroke="#808080" stroke-width="4.6" stroke-linejoin="round" stroke-linecap="round" points="119.0,368.0 119.5,411.6 120.0,369.1 120.5,415.3 121.0,375.2 121.5,410.2 122.0,367.5 122.5,411.4 123.0,373.8 123.5,408.5 124.0,373.2 124.5,406.0 125.0,361.3 125.5,406.1 126.0,364.8 126.5,407.3 127.0,365.0 127.5,422.2 128.0,358.7 128.5,419.6 129.0,359.6 129.5,422.2 130.0,356.4 130.5,413.6 131.0,339.7 131.5,402.0 132.0,327.8 132.5,396.1 133.0,328.4 133.5,390.6 134.2,320.3 134.5,401.1 135.0,324.3 135.5,398.3 136.0,331.6 136.5,404.9 137.0,337.8 137.5,403.0 138.0,325.4 138.5,426.6 139.0,359.7 139.5,398.7 140.0,360.8 140.5,410.4 141.0,363.1 141.5,413.2 142.0,347.2 142.5,420.2 143.0,345.0 143.5,410.2 144.0,336.8 144.5,403.1 145.0,337.1 145.5,411.3 146.0,344.6 146.5,414.2 147.0,353.5 147.5,410.6 148.0,353.9 148.5,413.6 149.0,345.2 149.5,409.6 150.0,364.0 150.5,403.5 151.0,366.8 151.5,408.1 152.0,373.1 152.5,410.8 153.0,374.8 153.5,408.7 154.0,370.6 154.5,410.8 155.0,372.3 155.5,401.0 156.0,363.4 156.5,405.5 157.0,359.6 157.5,407.8 158.0,357.4 158.5,410.7 159.0,349.5 159.5,431.4 160.0,355.1 160.5,424.5 161.0,353.1 161.5,423.2 162.0,356.4 162.5,415.2 163.0,359.4 163.5,417.0 164.0,358.0 164.5,408.7 165.0,368.0 165.5,409.9 166.0,370.4 166.5,431.4 167.0,379.8 167.5,407.3 168.0,379.8 168.5,405.8 169.0,376.2 169.5,412.0 170.0,356.2 170.5,409.8 171.0,359.3 171.5,422.1 172.0,367.6 172.5,420.9 173.0,347.5 173.5,415.4 174.0,366.3 174.5,418.9 175.0,369.1 175.5,417.8 176.0,363.0 176.5,419.0 177.0,360.1 177.5,419.0 178.0,355.1 178.5,427.4 179.0,344.3 179.5,423.4 180.0,352.4 180.5,427.0 181.0,358.9 181.5,424.2 182.0,359.0 182.5,424.7 183.0,357.6 183.5,425.2 184.0,358.2 184.5,412.8 185.0,353.9 185.5,418.8 186.0,353.8 186.5,410.5 187.0,344.3 187.5,423.0 188.0,361.4 188.5,428.3 189.0,358.7 189.5,427.8 190.0,352.3 190.5,428.1 191.0,351.3 191.5,428.2 192.0,349.9 192.5,429.0 193.0,351.8 193.5,427.9 194.0,371.0 194.5,428.0 195.0,372.1 195.5,421.1 196.0,369.5 196.5,418.2 197.0,367.4 197.5,410.6 198.0,375.1 198.5,410.1 199.0,369.7 199.5,406.4 200.0,371.1 200.5,410.1 201.0,360.2 201.5,414.8 202.0,368.0 202.5,414.7 203.0,358.4 203.5,419.3 204.0,358.3 204.5,429.1 205.0,357.5 205.5,421.2 206.0,364.9 206.5,426.6 207.0,379.2 207.5,426.3 208.0,374.8 208.5,412.6 209.0,373.9 209.5,406.2 210.0,365.9 210.5,427.7 211.0,356.8 211.5,412.9 212.0,362.7 212.5,417.6 213.0,345.6 213.5,426.5 214.0,344.8 214.5,430.5 215.0,341.8 215.5,418.3 216.0,346.3 216.5,419.4 217.0,345.7 217.5,407.5 218.0,353.5 218.5,426.1 219.0,341.5 219.5,419.5 220.0,349.6 220.5,426.0 221.0,351.3 221.5,417.2 222.0,363.0 222.5,412.3 223.0,354.7 223.5,409.2 224.0,342.5 224.5,431.1 225.0,349.1 225.5,408.3 226.0,349.8 226.5,408.0 227.0,355.3 227.5,415.2 228.0,365.1 228.5,407.7 229.0,368.4 229.5,427.1 230.0,365.0 230.5,417.6 231.0,381.1 231.5,420.2 232.0,385.1 232.5,410.0 233.0,372.2 233.5,430.3 234.0,365.2 234.5,416.2 235.0,355.3 235.5,412.6 236.0,353.3 236.5,419.2 237.0,345.7 237.5,414.3 238.0,339.6 238.5,430.1 239.0,358.3 239.5,418.8 240.0,354.4 240.5,421.7 241.0,353.1 241.5,421.8 242.0,342.5 242.5,426.3 243.0,350.4 243.5,416.7 244.0,334.2 244.5,421.3 245.0,342.0 245.5,312.3 246.0,353.2 246.5,427.3 247.0,354.7 247.5,426.5 248.0,360.0 248.5,428.1 249.0,362.4 249.5,428.0 250.0,362.1 250.5,427.6 251.0,356.1 251.5,429.7 252.0,352.2 252.5,426.9 253.0,346.5 253.5,422.8 254.0,340.4 254.5,413.6 255.0,354.7 255.5,430.6 256.0,364.4 256.5,416.6 257.0,355.4 257.3,320.3 258.0,338.5 258.5,407.5 259.0,343.2 259.5,408.5 260.0,346.6 260.5,411.3 261.0,353.8 261.5,428.7 262.0,354.8 262.5,430.9 263.0,350.2 263.5,433.2 264.0,367.7 264.5,432.9 265.0,366.3 265.5,432.2 266.0,360.7 266.5,422.5 267.0,369.2 267.5,427.6 268.0,363.8 268.5,428.4 269.0,357.7 269.5,432.8 270.0,356.4 270.5,435.4 271.0,364.2 271.5,435.1 272.0,363.4 272.5,419.7 273.0,367.1 273.5,438.7 274.0,348.7 274.5,413.4 275.0,367.6 275.5,416.5 276.0,346.9 276.5,437.7 277.0,370.2 277.5,414.5 278.0,360.9 278.5,410.5 279.0,355.7 279.5,411.5 280.0,360.5 280.5,415.5 281.0,363.3 281.5,412.7 282.0,365.3 282.5,420.4 283.0,366.1 283.5,403.8 284.0,367.9 284.5,411.1 285.0,370.4 285.5,416.4 286.0,364.0 286.5,418.6 287.0,357.2 287.5,421.2 288.0,364.1 288.5,435.8 289.0,352.6 289.5,409.6 290.0,349.0 290.5,422.6 291.0,349.3 291.5,431.2 292.0,348.6 292.5,430.9 293.0,332.6 293.5,436.5 294.0,338.1 294.5,410.3 295.0,341.6 295.5,409.9 296.0,359.3 296.5,433.9 297.0,366.1 297.5,411.6 298.0,371.9 298.5,408.4 299.0,368.2 299.5,410.2 300.0,359.3 300.5,412.1 301.0,340.0 301.5,412.4 302.0,365.3 302.5,409.0 303.0,360.8 303.5,403.3 304.0,375.4 304.5,408.0 305.0,371.2 305.5,419.0 306.0,345.1 306.5,419.3 307.0,375.9 307.5,423.7 308.0,370.1 308.5,438.7 309.0,369.5 309.5,428.0 310.0,371.4 310.5,420.3 311.0,350.5 311.5,411.9 312.0,375.7 312.5,407.5 313.0,348.5 313.5,416.5 314.0,372.5 314.5,418.8 315.0,366.1 315.5,419.4 316.0,367.8 316.5,418.6 317.0,366.5 317.5,437.7 318.0,368.5 318.5,423.8 319.0,362.2 319.5,426.8 320.0,363.7 320.5,430.6 321.0,372.4 321.5,429.2 322.0,381.5 322.5,410.8 323.0,384.7 323.5,442.5 324.0,384.7 324.5,415.4 325.0,387.6 325.5,416.0 326.0,382.6 326.5,418.1 327.0,371.0 327.5,408.5 328.0,352.3 328.5,418.8 329.0,374.8 329.5,409.8 330.0,375.5 330.5,423.9 331.0,350.2 331.5,425.7 332.0,369.1 332.5,420.7 333.0,370.2 333.5,424.2 334.0,374.8 334.5,417.0 335.0,346.7 335.5,435.8 336.0,375.1 336.5,417.2 337.0,368.3 337.5,421.9 338.0,360.2 338.5,415.0 339.0,354.2 339.5,414.8 340.0,369.3 340.5,408.0 341.0,373.9 341.5,412.7 342.0,350.8 342.5,428.8 343.0,357.1 343.5,426.4 344.0,354.6 344.5,426.4 345.0,368.0 345.5,422.7 346.0,378.1 346.5,423.0 347.0,373.9 347.5,425.6 348.0,352.3 348.5,419.1 349.0,370.0 349.5,426.9 350.0,375.7 350.5,424.8 351.0,371.0 351.5,415.8 352.0,366.6 352.5,409.4 353.0,359.8 353.5,407.1 354.0,345.9 354.5,419.6 355.0,363.1 355.5,417.8 356.0,355.4 356.5,420.2 357.0,358.0 357.5,410.6 358.0,342.5 358.5,409.7 359.0,338.5 359.5,410.7 360.0,342.3 360.5,411.5 361.0,346.8 361.5,418.4 362.0,324.2 362.5,324.9 363.0,350.8 363.5,417.6 364.0,359.2 364.5,412.4 365.0,338.0 365.5,421.4 366.0,356.6 366.5,411.3 367.0,350.0 367.5,413.7 368.0,353.9 368.5,420.9 369.0,336.8 369.5,398.9 370.0,342.0 370.5,403.9 371.0,342.2 371.5,416.1 372.0,338.6 372.5,408.9 373.0,343.1 373.5,415.6 374.0,345.5 374.5,412.4 375.0,349.5 375.5,417.4 376.0,354.3 376.5,417.7 377.0,336.7 377.5,414.6 378.0,352.8 378.5,406.3 379.0,358.0 379.5,398.2 380.0,358.6 380.5,397.1 381.0,335.7 381.5,400.7 382.0,338.2 382.5,410.4 383.0,335.8 383.5,398.7 384.0,341.8 384.5,395.8 385.0,346.1 385.5,411.9 386.0,348.8 386.5,394.4 387.0,348.5 387.5,401.4 388.0,353.0 388.5,403.3 389.0,355.6 389.5,414.2 390.0,362.3 390.5,404.5 391.0,353.1 391.5,414.9 392.0,360.2 392.5,407.5 393.0,343.6 393.5,413.1 394.0,352.2 394.5,393.7 395.0,344.7 395.5,420.1 396.0,349.7 396.5,409.4 397.0,354.0 397.5,406.7 398.0,364.8 398.5,404.5 399.0,363.5 399.5,399.8 400.0,358.9 400.5,405.8 401.0,359.5 401.5,412.7 402.0,370.3 402.5,416.0 403.0,366.8 403.5,415.1 404.0,364.3 404.5,412.1 405.0,363.8 405.5,409.9 406.0,362.8 406.5,419.1 407.0,347.1 407.5,418.5 408.0,362.2 408.5,407.7 409.0,363.5 409.5,422.2 410.0,365.8 410.5,398.4 411.0,356.2 411.5,407.4 412.0,356.0 412.5,423.2 413.0,354.0 413.5,403.2 414.0,366.4 414.5,406.5 415.0,378.6 415.5,405.5 416.0,358.7 416.5,426.7 417.0,380.7 417.5,412.2 418.0,379.8 418.5,414.1 419.0,381.3 419.5,416.4 420.0,377.1 420.5,408.8 421.0,348.9 421.5,412.4 422.0,355.5 422.5,409.7 423.0,352.9 423.5,404.4 424.0,354.3 424.5,412.2 425.0,334.7 425.5,405.4 426.0,358.9 426.5,426.6 427.0,325.8 427.5,404.2 428.0,340.8 428.5,401.1 429.0,336.5 429.5,415.1 430.0,336.3 430.5,409.7 431.0,334.8 431.5,427.9 432.0,330.9 432.5,406.9 433.0,339.6 433.5,412.4 434.0,374.6 434.5,417.3 435.0,374.1 435.5,425.4 436.0,359.5 436.5,424.9 437.0,354.8 437.5,425.6 438.0,354.2 438.5,423.7 439.0,364.3 439.5,420.7 440.0,368.7 440.5,431.5 441.0,362.4 441.5,405.5 442.0,366.3 442.5,404.6 443.0,362.9 443.5,409.3 444.0,363.6 444.5,419.4 445.0,358.2 445.5,416.5 446.0,347.1 446.5,423.4 447.0,356.0 447.5,425.2 448.0,364.5 448.5,427.3 449.0,364.8 449.5,425.4 450.0,368.1 450.5,426.9 451.0,354.3 451.5,410.1 452.0,340.9 452.5,405.7 453.0,362.7 453.5,417.0 454.0,376.7 454.5,409.0 455.0,364.4 455.5,411.5 456.0,372.4 456.5,413.0 457.0,362.3 457.5,413.1 458.0,366.9 458.5,418.7 459.0,365.1 459.5,427.5 460.0,361.1 460.5,429.6 461.0,354.4 461.5,434.5 462.0,370.0 462.5,435.6 463.0,366.6 463.5,438.8 464.0,367.9 464.5,430.0 465.0,370.9 465.5,433.2 466.0,362.4 466.5,426.9 467.0,367.6 467.5,419.2 468.0,371.4 468.5,423.6 469.0,365.0 469.5,420.3 470.0,386.3 470.5,429.8 471.0,364.8 471.5,433.9 472.0,385.9 472.5,426.4 473.0,386.8 473.5,429.3 474.0,385.2 474.5,425.6 475.0,373.3 475.5,433.4 476.0,367.7 476.5,433.8 477.0,364.4 477.5,438.1 478.0,373.4 478.5,428.0 479.0,369.4 479.5,428.0 480.0,360.9 480.5,420.4 481.0,354.4 481.5,419.0 482.0,352.3 482.5,423.2 483.0,365.1 483.5,425.9 484.0,366.7 484.5,418.9 485.0,378.5 485.5,434.3 486.0,369.3 486.5,420.3 487.0,371.0 487.5,427.4 488.0,369.6 488.5,441.3 489.0,370.1 489.5,421.4 490.0,371.1 490.5,435.6 491.0,373.8 491.5,434.6 492.0,364.3 492.5,435.1 493.0,375.4 493.5,415.7 494.0,390.3 494.5,418.0 495.0,385.7 495.5,420.6 496.0,388.1 496.5,416.9 497.0,381.6 497.5,417.6 498.0,381.2 498.5,429.1 499.0,366.6 499.5,432.7 500.0,382.9 500.5,436.7 501.0,384.8 501.5,439.8 502.0,378.0 502.5,419.8 503.0,382.3 503.5,411.7 504.0,383.9 504.5,413.1 505.0,382.2 505.5,420.8 506.0,376.1 506.5,432.0 507.0,367.9 507.5,429.7 508.0,364.7 508.5,432.8 509.0,367.6 509.5,423.0 510.0,376.7 510.5,423.0 511.0,382.6 511.5,428.2 512.0,382.9 512.5,425.5 513.0,361.0 513.5,429.4 514.0,397.3 514.5,422.1 515.0,390.1 515.5,441.5 516.0,386.6 516.5,430.7 517.0,388.5 517.5,441.8 518.0,389.0 518.5,421.9 519.0,387.5 519.5,424.6 520.0,373.9 520.5,422.4 521.0,369.2 521.5,431.9 522.0,368.4 522.5,423.2 523.0,366.5 523.5,448.6 524.0,382.6 524.5,433.5 525.0,387.7 525.5,438.3 526.0,388.2 526.5,447.2 527.0,395.1 527.5,442.9 528.0,391.1 528.5,439.8 529.0,392.6 529.5,451.0 530.0,384.1 530.5,441.3 531.0,390.2 531.5,444.4 532.0,383.2 532.5,444.5 533.0,375.0 533.5,441.3 534.0,377.5 534.5,426.2 535.0,378.9 535.5,429.5 536.0,375.4 536.5,437.2 537.0,366.5 537.5,453.1 538.0,382.8 538.5,454.4 539.0,382.6 539.5,437.1 540.0,390.1 540.5,442.0 541.0,392.5 541.5,460.9 542.0,380.7 542.5,444.0 543.0,379.5 543.5,452.5 544.0,367.9 544.5,448.1 545.0,377.0 545.5,437.8 546.0,369.9 546.5,447.0 547.0,385.1 547.5,438.9 548.0,393.1 548.5,455.1 549.0,395.1 549.5,444.1 550.0,387.8 550.5,449.2 551.0,397.1 551.5,445.7 552.0,392.0 552.5,454.2 553.0,382.4 553.5,448.3 554.0,384.2 554.5,446.9 555.0,377.8 555.5,451.4 556.0,397.0 556.5,452.6 557.0,378.8 557.5,460.1 558.0,366.7 558.5,456.6 559.0,386.6 559.5,454.7 560.0,384.9 560.5,458.4 561.0,376.6 561.5,456.3 562.0,367.3 562.5,457.1 563.0,376.4 563.5,455.9 564.0,383.2 564.5,457.9 565.0,369.2 565.5,453.6 566.0,392.3 566.5,442.9 567.0,398.3 567.5,451.9 568.0,394.7 568.5,433.2 569.0,388.5 569.5,438.9 570.0,389.3 570.5,440.9 571.0,393.1 571.5,438.5 572.0,397.4 572.5,454.5 573.0,398.4 573.5,438.0 574.0,400.3 574.5,449.6 575.0,393.0 575.5,456.1 576.0,388.7 576.5,455.5 577.0,395.4 577.5,455.0 578.0,405.4 578.5,452.0 579.0,372.3 579.5,447.0 580.0,397.4 580.5,453.3 581.0,384.9 581.5,434.1 582.0,386.9 582.5,437.4 583.0,386.3 583.5,442.5 584.0,381.2 584.5,434.9 585.0,377.5 585.5,444.6 586.0,375.3 586.5,445.7 587.0,374.8 587.5,448.3 588.0,373.8 588.5,434.9 589.0,383.5 589.5,432.1 590.0,371.0 590.5,432.5 591.0,398.2 591.5,431.4 592.0,392.7 592.5,448.8 593.0,381.6 593.5,443.4 594.0,374.6 594.5,450.1 595.0,366.8 595.5,456.5 596.0,385.1 596.5,446.5 597.0,397.2 597.5,447.0 598.0,368.0 598.5,451.2 599.0,386.5 599.5,447.3 600.0,379.4 600.5,430.1 601.0,387.5 601.5,454.9 602.0,391.1 602.5,430.8 603.0,394.9 603.5,431.8 604.0,400.0 604.5,431.7 605.0,394.1 605.5,441.5 606.0,388.8 606.5,445.0 607.0,386.9 607.5,445.7 608.0,378.9 608.5,438.2 609.0,379.1 609.5,438.6 610.0,378.4 610.5,427.4 611.0,380.8 611.5,448.1 612.0,388.1 612.5,436.4 613.0,385.7 613.6,342.8 614.0,390.3 614.5,428.6 615.0,381.8 615.5,427.3 616.0,379.0 616.5,425.2 617.0,377.6 617.5,427.6 618.0,377.4 618.5,430.4 619.0,378.1 619.5,434.8 620.0,371.3 620.5,435.7 621.0,378.5 621.5,439.6 622.0,382.4 622.5,440.4 623.0,360.8 623.5,432.4 624.0,381.2 624.5,420.7 625.0,386.1 625.5,424.3 625.8,349.9 626.5,421.0 627.0,387.3 627.5,430.8 628.0,385.7 628.5,436.2 629.0,381.3 629.5,430.8 630.0,371.9 630.5,426.2 631.0,391.7 631.5,432.7 632.0,394.6 632.5,429.6 633.0,395.0 633.5,431.4 634.0,378.9 634.5,428.7 635.0,391.9 635.5,435.1 636.0,393.1 636.5,450.2 637.0,392.7 637.5,444.0 638.0,388.9 638.5,447.8 639.0,389.5 639.5,445.8 640.0,389.1 640.5,453.0 641.0,375.1 641.5,455.0 642.0,398.1 642.5,448.1 643.0,396.7 643.5,445.8 644.0,391.9 644.5,441.7 645.0,379.1 645.5,444.3 646.0,392.0 646.5,448.0 647.0,387.8 647.5,444.9 648.0,388.9 648.5,463.9 649.0,394.2 649.5,451.7 650.0,386.6 650.5,467.6 651.0,386.1 651.5,452.2 652.0,388.9 652.5,449.3 653.0,386.7 653.5,438.0 654.0,385.1 654.5,434.8 655.0,387.2 655.5,427.4 656.0,370.7 656.5,466.4 657.0,386.9 657.5,430.9 658.0,390.3 658.5,438.1 659.0,376.4 659.5,457.1 660.0,372.0 660.5,454.9 661.0,378.3 661.5,459.6 662.0,381.4 662.5,448.0 663.0,388.0 663.5,468.5 664.0,393.0 664.5,440.4 665.0,391.9 665.5,440.3 666.0,385.2 666.5,442.3 667.0,386.2 667.5,437.5 668.0,388.2 668.5,450.4 669.0,398.8 669.5,449.8 670.0,406.1 670.5,444.7 671.0,373.2 671.5,444.1 672.0,398.6 672.5,445.9 673.0,393.1 673.5,457.3 674.0,386.9 674.5,449.8 675.0,387.0 675.5,441.1 676.0,371.0 676.5,437.6 677.0,391.9 677.5,461.6 678.0,386.2 678.5,462.9 679.0,393.0 679.5,462.1 680.0,384.7 680.5,465.8 681.0,400.5 681.5,468.2 682.0,394.9 682.5,448.5 683.0,399.1 683.5,448.1 684.0,407.5 684.5,452.9 685.0,409.9 685.5,453.3 686.0,401.7 686.5,449.9 687.0,391.1 687.5,456.3 688.0,383.3 688.5,462.1 689.0,373.8 689.5,462.5 690.0,383.9 690.5,458.3 691.0,398.1 691.5,455.6 692.0,400.4 692.5,454.9 693.0,409.6 693.5,459.0 694.0,401.9 694.5,453.4 695.0,394.4 695.5,457.5 696.0,399.6 696.5,468.6 697.0,408.4 697.5,448.3 698.0,376.5 698.5,455.8 699.0,397.0 699.5,442.3 700.0,401.3 700.5,451.4 701.0,397.1 701.5,467.5 702.0,401.0 702.5,457.2 703.0,380.3 703.5,453.4 704.0,392.2 704.5,464.2 705.0,393.4 705.5,454.7 706.0,396.5 706.5,457.1 707.0,392.1 707.5,457.6 708.0,402.5 708.5,451.4 709.0,403.5 709.5,462.2 710.0,394.2 710.5,449.2 711.0,396.6 711.5,461.9 712.0,380.0 712.5,456.6 713.0,375.1 713.5,455.4 714.0,391.1 714.5,461.0 715.0,397.5 715.5,447.1 716.0,404.2 716.5,459.0 717.0,395.9 717.5,440.2 718.0,396.2 718.5,444.6 719.0,391.9 719.5,442.5 720.0,399.3 720.5,440.7 721.0,398.6 721.5,431.1 722.0,388.4 722.5,422.0 723.0,388.6 723.5,427.7 724.0,377.7 724.5,431.0 725.0,384.1 725.5,441.7 726.0,380.7 726.5,449.8 727.0,388.6 727.5,450.7 728.0,396.8 728.5,450.7 729.0,394.9 729.5,439.5 730.0,399.6 730.5,443.1 731.0,385.7 731.5,448.1 732.0,381.7 732.5,443.9 733.0,384.3 733.5,442.9 734.0,377.7 734.5,436.5 735.0,389.7 735.5,438.9 736.0,392.4 736.5,433.7 737.0,397.1 737.5,453.5 738.0,375.2 738.5,448.7 739.0,389.3 739.5,446.3 740.0,380.1 740.5,447.1 741.0,379.2 741.5,444.7 742.0,381.6 742.5,443.6 743.0,388.6 743.5,447.8 744.0,394.7 744.5,441.0 745.0,378.3 745.5,440.5 746.0,402.4 746.5,452.1 747.0,408.8 747.5,457.4 748.0,406.0 748.5,447.3 749.0,411.0 749.5,456.7 750.0,402.0 750.5,453.3 751.0,398.2 751.5,456.9 752.0,381.4 752.5,448.7 753.0,382.9 753.5,444.4 754.0,380.0 754.5,445.5 755.0,379.5 755.5,440.8 756.0,384.0 756.5,437.1 757.0,402.8 757.5,444.9 758.0,376.8 758.5,444.2 759.0,406.9 759.5,457.9 760.0,381.7 760.5,443.4 761.0,398.0 761.5,456.1 762.0,395.8 762.5,431.2 763.0,384.9 763.5,428.9 764.0,389.5 764.5,457.0 765.0,389.6 765.5,437.0 766.0,401.2 766.5,441.8 767.0,403.1 767.5,437.8 768.0,399.4 768.5,440.4 769.0,390.4 769.5,434.2 770.0,391.5 770.5,438.2 771.0,394.6 771.5,434.9 772.0,380.1 772.5,432.2 773.0,395.0 773.5,435.3 774.0,390.1 774.5,433.1 775.0,395.8 775.5,445.4 776.0,395.2 776.5,448.8 777.0,390.3 777.5,450.9 778.0,386.9 778.5,451.9 779.0,394.0 779.5,450.6 780.0,385.7 780.5,449.1 781.0,385.6 781.5,433.9 782.0,386.1 782.5,433.6 783.0,386.6 783.5,438.7 784.0,392.7 784.5,457.7 785.0,400.9 785.5,444.8 786.0,392.9 786.5,443.5 787.0,388.2 787.5,438.4 788.0,391.9 788.5,435.3 789.0,394.2 789.5,423.5 790.0,393.9 790.5,421.9 791.0,398.5 791.5,453.8 792.0,391.8 792.5,433.4 793.0,401.0 793.5,433.0 794.0,398.2 794.5,439.9 795.0,400.6 795.5,458.6 796.0,392.0 796.5,441.5 797.0,389.0 797.5,447.6 798.0,392.6 798.5,453.5 799.0,398.4 799.5,456.4 800.0,388.9 800.5,457.1 801.0,390.7 801.5,457.9 802.0,390.7 802.5,450.8 803.0,380.4 803.5,447.5 804.0,412.6 804.5,456.4 805.0,411.7 805.5,447.5 806.0,402.7 806.5,450.0 807.0,388.2 807.5,444.7 808.0,380.6 808.5,447.1 809.0,396.9 809.5,450.4 810.0,394.6 810.5,443.0 811.0,396.7 811.5,440.9 812.0,385.7 812.5,430.3 813.0,382.4 813.5,440.0 814.0,396.1 814.5,435.7 815.0,396.0 815.5,433.1 816.0,398.7 816.5,446.1 817.0,396.2 817.5,441.7 818.0,380.8 818.5,438.1 819.0,385.7 819.5,436.3 820.0,395.4 820.5,439.7 821.0,405.7 821.5,449.0 822.0,408.8 822.5,446.5 823.0,408.6 823.5,443.4 824.0,401.5 824.5,441.2 825.0,394.9 825.5,444.6 826.0,387.1 826.5,446.1 827.0,390.5 827.5,444.8 828.0,394.2 828.5,438.8 829.0,380.9 829.5,456.1 830.0,408.5 830.5,438.2 831.0,412.2 831.5,433.5 832.0,398.1 832.5,439.9 833.0,395.3 833.5,458.6 834.0,386.2 834.5,452.4 835.0,391.3 835.5,439.8 836.0,400.8 836.5,445.9 837.0,408.7 837.5,446.7 838.0,403.7 838.5,456.4 839.0,405.0 839.5,460.4 840.0,400.5 840.5,459.2 841.0,380.6 841.5,448.6 842.0,407.2 842.5,448.1 843.0,404.3 843.5,450.4 844.0,398.8 844.5,453.9 845.0,399.2 845.5,441.2 846.0,390.8 846.5,440.1 847.0,381.2 847.5,429.2 848.0,383.4 848.5,459.8 849.0,400.0 849.5,447.6 850.0,405.8 850.5,448.6 851.0,412.5 851.5,445.1 852.0,409.2 852.5,451.6 853.0,383.5 853.5,440.2 854.0,387.4 854.5,442.3 855.0,391.7 855.5,445.1 856.0,384.7 856.5,436.5 857.0,398.5 857.5,435.6 858.0,403.4 858.5,461.0 859.0,400.1 859.5,436.7 860.0,386.1 860.5,445.9 861.0,392.4 861.5,442.9 862.0,387.5 862.5,439.7 863.0,395.8 863.5,444.1 864.0,404.3 864.5,453.5 865.0,397.0 865.5,466.3 866.0,409.7 866.5,455.5 867.0,409.3 867.5,459.3 868.0,419.9 868.5,451.6 869.0,402.6 869.5,454.2 870.0,388.6 870.5,452.2 871.0,388.7 871.5,457.5 872.0,388.9 872.5,464.0 873.0,392.1 873.5,456.3 874.0,392.8 874.5,455.1 875.0,396.2 875.5,453.6 876.0,391.7 876.5,448.6 877.0,396.8 877.5,464.5 878.0,403.4 878.5,456.0 879.0,415.6 879.5,459.6 880.0,407.4 880.5,459.8 881.0,386.2 881.5,454.4 882.0,407.3 882.5,453.6 883.0,407.1 883.5,443.5 884.0,407.5 884.5,457.5 885.0,384.6 885.5,440.0 886.0,395.0 886.5,436.9 887.0,388.8 887.5,446.8 888.0,387.1 888.5,445.9 889.0,381.6 889.5,448.6 890.0,398.8 890.5,452.3 891.0,395.1 891.5,439.7 892.0,391.1 892.5,436.5 893.0,392.8 893.5,437.4 894.0,395.4 894.5,425.2 895.0,390.9 895.5,423.0 896.0,387.8 896.5,425.1 897.0,378.8 897.5,431.6 898.0,382.1 898.5,414.1 899.0,377.5 899.5,416.3 900.0,359.7 900.5,412.3 901.0,366.9 901.5,411.0 902.0,355.4 902.5,420.0 903.0,358.0 903.5,402.4 904.0,354.7 904.5,404.5 905.0,353.2 905.5,397.2 906.0,353.1 906.5,405.6 907.0,344.3 907.5,395.6 908.0,334.4 908.5,390.5 909.0,326.5 909.5,383.5 910.0,322.0 910.5,393.9 911.0,328.5 911.5,401.0 911.8,317.0 912.5,406.9 913.0,337.2 913.5,401.9 914.0,334.4 914.5,403.4 915.0,337.7 915.5,411.4 916.0,327.3 916.5,404.4 917.0,332.2 917.5,412.0 918.0,336.5 918.5,409.8 919.0,335.5 919.5,408.1 920.0,341.1 920.5,413.0 921.0,346.5 921.5,404.3 922.0,348.7 922.5,409.7 923.0,345.8 923.5,410.9 924.0,349.0 924.5,407.2 925.0,357.7 925.5,399.1 926.0,357.8 926.5,406.4 927.0,354.3 927.5,395.1 928.0,350.6 928.5,397.5 929.0,347.9 929.5,389.2 930.0,350.1 930.5,411.1 931.0,358.0 931.5,401.3 932.0,357.3 932.5,398.1 933.0,359.0 933.5,395.7 934.0,355.2 934.5,395.7 935.0,356.3"/>
<polyline fill="none" stroke="#66CC00" stroke-width="4.6" stroke-linejoin="round" stroke-linecap="round" points="119.0,370.3 119.5,437.0 120.0,371.4 120.5,444.6 121.0,375.7 121.5,451.4 122.0,382.1 122.5,455.1 123.0,381.5 123.5,439.0 124.0,363.5 124.5,430.9 125.0,366.6 125.5,423.5 126.0,369.6 126.5,424.6 127.0,382.4 127.5,429.2 128.0,390.1 128.5,425.2 129.0,380.2 129.5,433.7 130.0,367.8 130.5,450.7 131.0,363.4 131.5,454.7 132.0,361.9 132.5,450.0 133.0,385.5 133.5,456.4 134.0,375.5 134.5,442.0 135.0,400.1 135.5,436.3 136.0,402.2 136.5,454.8 137.0,393.9 137.5,452.7 138.0,392.9 138.5,443.1 139.0,380.1 139.5,457.9 140.0,390.5 140.5,440.5 141.0,382.5 141.5,438.7 142.0,388.3 142.5,431.1 143.0,386.6 143.5,429.8 144.0,393.7 144.5,438.7 145.0,386.8 145.5,455.4 146.0,400.3 146.5,445.3 147.0,405.9 147.5,435.0 148.0,406.1 148.5,438.0 149.0,403.9 149.5,446.8 150.0,397.1 150.5,446.6 151.0,398.8 151.5,434.0 152.0,399.7 152.5,439.3 153.0,378.0 153.5,439.0 154.0,401.4 154.5,441.6 155.0,378.7 155.5,447.9 156.0,383.1 156.5,439.4 157.0,382.6 157.5,436.4 158.0,376.1 158.5,424.2 159.0,386.7 159.5,428.6 160.0,385.7 160.5,428.0 161.0,375.4 161.5,431.5 162.0,377.8 162.5,431.2 163.0,382.4 163.5,435.0 164.0,384.8 164.5,436.1 165.0,381.0 165.5,423.0 166.0,383.2 166.5,431.6 167.0,384.2 167.5,432.4 168.0,388.4 168.5,439.6 169.0,383.0 169.5,439.8 170.0,388.7 170.5,439.1 171.0,401.4 171.5,439.5 172.0,396.8 172.5,445.3 173.0,411.7 173.5,448.2 174.0,405.5 174.5,451.0 175.0,404.0 175.5,459.0 176.0,410.9 176.5,461.2 177.0,401.0 177.5,451.9 178.0,403.3 178.5,446.5 179.0,399.7 179.5,448.8 180.0,385.4 180.5,459.8 181.0,394.4 181.5,452.5 182.0,394.5 182.5,451.2 183.0,408.8 183.5,447.6 184.0,406.2 184.5,451.2 185.0,383.5 185.5,464.8 186.0,397.2 186.5,447.7 187.0,381.9 187.5,461.2 188.0,409.7 188.5,462.8 189.0,401.4 189.5,459.5 190.0,386.9 190.5,455.5 191.0,385.6 191.5,449.4 192.0,387.5 192.5,444.5 193.0,389.7 193.5,431.0 194.0,386.3 194.5,434.6 195.0,369.1 195.5,427.0 196.0,376.8 196.5,433.9 197.0,377.2 197.5,436.8 198.0,372.0 198.5,439.3 199.0,374.3 199.5,447.3 200.0,378.2 200.5,441.9 201.0,374.7 201.5,436.0 202.0,379.6 202.5,442.1 203.0,384.5 203.5,444.1 204.0,396.1 204.5,457.0 205.0,403.4 205.5,444.3 206.0,406.4 206.5,437.6 207.0,379.4 207.5,454.3 208.0,395.7 208.5,450.1 209.0,389.3 209.5,444.3 210.0,377.9 210.5,436.3 211.0,375.2 211.5,436.0 212.0,371.7 212.5,427.9 213.0,387.6 213.5,442.4 214.0,384.0 214.5,449.7 215.0,396.1 215.5,453.0 216.0,399.4 216.5,453.7 217.0,407.2 217.5,460.1 218.0,397.4 218.5,453.5 219.0,384.9 219.5,452.4 220.0,388.2 220.5,465.6 221.0,386.4 221.5,438.1 222.0,390.4 222.5,431.4 223.0,394.5 223.5,439.0 224.0,398.8 224.5,465.4 225.0,405.4 225.5,441.9 226.0,389.3 226.5,456.2 227.0,390.1 227.5,449.4 228.0,389.2 228.5,436.0 229.0,391.8 229.5,436.8 230.0,387.6 230.5,433.4 231.0,385.9 231.5,440.4 232.0,387.0 232.5,437.0 233.0,384.3 233.5,428.9 234.0,380.9 234.5,421.3 235.0,381.4 235.5,431.5 236.0,382.7 236.5,434.5 237.0,386.4 237.5,438.8 238.0,384.7 238.5,448.1 239.0,391.6 239.5,446.1 240.0,391.8 240.5,453.0 241.0,397.7 241.5,440.9 242.0,388.2 242.5,456.4 243.0,409.5 243.5,433.5 244.0,410.6 244.5,439.9 245.0,409.1 245.5,449.7 246.0,401.5 246.5,449.1 247.0,389.5 247.5,457.2 248.0,383.6 248.5,442.4 249.0,401.1 249.5,439.6 250.0,408.5 250.5,453.0 251.0,396.6 251.5,437.6 252.0,388.6 252.5,438.7 253.0,389.9 253.5,447.7 254.0,388.3 254.5,429.3 255.0,387.5 255.5,427.2 256.0,383.0 256.5,428.7 257.0,372.1 257.5,433.1 258.0,373.6 258.5,431.4 259.0,367.3 259.5,434.6 260.0,358.5 260.5,418.8 261.0,374.3 261.5,408.4 262.0,371.1 262.5,407.3 263.0,371.0 263.5,417.8 264.0,357.7 264.5,438.4 265.0,352.2 265.5,426.5 266.0,370.6 266.5,422.6 267.0,377.7 267.5,412.6 268.0,370.1 268.5,430.7 269.0,359.8 269.5,413.4 270.0,349.4 270.5,416.4 271.0,344.7 271.5,412.9 272.0,355.2 272.5,412.8 273.0,350.6 273.5,417.2 274.0,356.1 274.5,423.2 275.0,348.8 275.5,428.7 276.0,357.8 276.5,427.0 277.0,348.9 277.5,422.7 278.0,358.5 278.5,430.0 279.0,354.0 279.5,413.4 280.0,360.0 280.5,417.6 281.0,361.2 281.5,414.9 282.0,338.0 282.5,418.3 283.0,365.7 283.5,419.2 284.0,365.5 284.5,403.6 285.0,369.7 285.5,403.9 286.0,376.0 286.5,405.4 287.0,377.3 287.5,403.3 288.0,363.3 288.5,426.3 289.0,355.5 289.5,406.7 290.0,349.7 290.5,418.1 291.0,362.3 291.5,410.8 292.0,346.4 292.5,415.2 293.0,367.3 293.5,410.2 294.0,365.8 294.5,416.7 295.0,373.2 295.5,411.3 296.0,363.1 296.5,422.5 297.0,365.7 297.5,419.6 298.0,362.8 298.5,426.2 299.0,362.4 299.5,409.1 300.0,364.7 300.5,405.7 301.0,364.2 301.5,423.8 302.0,372.1 302.5,403.7 303.0,367.0 303.5,419.7 304.0,363.1 304.5,396.3 305.0,350.4 305.5,420.0 306.0,362.3 306.5,398.7 307.0,362.9 307.5,407.3 308.0,364.1 308.5,413.3 309.0,365.3 309.5,398.1 310.0,362.3 310.5,394.9 311.0,356.7 311.5,387.9 312.0,353.3 312.5,409.8 313.0,363.4 313.5,404.0 314.0,351.5 314.5,392.7 315.0,341.4 315.6,299.8 316.0,340.3 316.5,390.4 317.0,341.6 317.5,384.1 318.0,346.2 318.5,384.4 319.0,335.7 319.5,393.4 320.0,355.4 320.5,391.0 321.0,344.6 321.5,392.7 322.0,341.0 322.5,392.3 323.2,316.8 323.5,380.6 324.0,324.0 324.5,376.4 325.0,323.5 325.5,376.4 326.0,332.0 326.5,381.8 327.0,342.7 327.5,380.8 328.0,349.1 328.5,391.7 329.0,347.3 329.5,390.1 330.0,337.7 330.5,387.6 331.0,344.4 331.5,382.3 332.0,346.2 332.5,391.3 333.0,335.7 333.5,397.0 334.0,352.5 334.5,417.8 335.0,353.8 335.5,411.7 336.0,350.6 336.5,410.5 337.0,350.8 337.5,419.3 338.0,349.9 338.5,420.2 339.0,352.6 339.5,415.8 340.0,342.4 340.5,412.6 341.0,369.9 341.5,407.9 342.0,365.6 342.5,414.8 343.0,357.0 343.5,412.6 344.0,357.7 344.5,415.3 345.0,342.6 345.5,405.3 346.0,358.3 346.5,412.3 347.0,372.5 347.5,414.6 348.0,367.3 348.5,421.4 349.0,375.0 349.5,417.3 350.0,372.0 350.5,415.6 351.0,366.8 351.5,409.3 352.0,362.3 352.5,408.9 353.0,362.1 353.5,412.0 354.0,355.7 354.5,414.9 355.0,362.0 355.5,406.9 356.0,356.3 356.5,412.9 357.0,354.1 357.5,430.4 358.0,357.8 358.5,399.9 359.0,344.4 359.5,410.3 360.0,374.3 360.5,410.5 361.0,346.0 361.5,413.1 362.0,374.0 362.5,416.6 363.0,364.0 363.5,419.1 364.0,350.1 364.5,410.6 365.0,348.1 365.5,414.1 366.0,346.0 366.5,405.8 367.0,348.9 367.5,404.8 368.0,338.0 368.5,405.9 369.0,335.9 369.5,404.1 370.0,330.9 370.5,400.1 371.0,334.9 371.5,410.2 372.0,352.2 372.5,410.6 373.0,356.9 373.5,400.9 374.0,351.0 374.5,397.3 375.0,343.7 375.5,393.9 376.0,345.1 376.5,393.6 377.0,348.6 377.5,402.1 378.0,361.1 378.5,416.5 379.0,356.3 379.5,402.9 380.0,352.5 380.5,407.7 381.0,358.9 381.5,411.8 382.0,352.9 382.5,410.1 383.0,374.8 383.5,408.6 384.0,374.1 384.5,415.7 385.0,341.3 385.5,396.9 386.0,357.8 386.5,396.7 387.0,347.4 387.5,385.4 388.0,337.8 388.5,390.3 389.0,331.1 389.5,379.6 390.0,336.2 390.5,396.9 391.0,341.9 391.5,401.5 392.0,329.4 392.5,390.9 393.0,340.9 393.5,395.3 394.0,336.1 394.5,399.0 395.0,337.5 395.5,403.0 396.0,341.8 396.5,412.3 397.0,336.9 397.5,425.3 398.0,341.3 398.5,430.7 399.0,344.6 399.5,423.2 400.0,349.1 400.5,426.0 401.0,356.3 401.5,422.7 402.0,364.0 402.5,418.7 403.0,358.7 403.5,407.2 404.0,362.6 404.5,408.2 405.0,363.4 405.5,406.1 406.0,368.5 406.5,409.5 407.0,364.4 407.5,405.4 408.0,346.0 408.5,423.6 409.0,365.9 409.5,416.0 410.0,373.6 410.5,417.0 411.0,374.3 411.5,409.1 412.0,377.1 412.5,408.0 413.0,354.6 413.5,409.7 414.0,366.7 414.5,434.0 415.0,358.5 415.5,428.8 416.0,366.4 416.5,435.0 417.0,378.4 417.5,442.2 418.0,377.1 418.5,442.1 419.0,386.2 419.5,446.7 420.0,395.7 420.5,440.4 421.0,399.9 421.5,442.6 422.0,408.4 422.5,443.8 423.0,407.2 423.5,437.1 424.0,402.0 424.5,434.7 425.0,399.0 425.5,436.0 426.0,401.1 426.5,438.9 427.0,407.7 427.5,449.4 428.0,396.2 428.5,458.0 429.0,409.0 429.5,446.3 430.0,409.3 430.5,445.0 431.0,400.4 431.5,442.8 432.0,402.5 432.5,445.6 433.0,399.3 433.5,443.5 434.0,400.9 434.5,445.6 435.0,405.2 435.5,443.9 436.0,404.6 436.5,458.5 437.0,389.6 437.5,455.3 438.0,399.4 438.5,448.7 439.0,396.0 439.5,447.5 440.0,403.6 440.5,444.6 441.0,391.5 441.5,458.4 442.0,409.3 442.5,428.2 443.0,411.9 443.5,433.2 444.0,404.9 444.5,441.8 445.0,407.8 445.5,445.4 446.0,404.4 446.5,457.1 447.0,410.8 447.5,450.1 448.0,404.0 448.5,442.4 449.0,404.0 449.5,460.8 450.0,400.7 450.5,446.0 451.0,396.5 451.5,447.7 452.0,413.9 452.5,456.1 453.0,415.9 453.5,451.5 454.0,408.1 454.5,453.1 455.0,400.6 455.5,464.7 456.0,407.7 456.5,442.5 457.0,402.8 457.5,445.3 458.0,396.2 458.5,447.5 459.0,399.0 459.5,451.3 460.0,402.4 460.5,462.2 461.0,400.5 461.5,449.1 462.0,406.0 462.5,448.6 463.0,402.1 463.5,451.6 464.0,406.0 464.5,439.8 465.0,397.6 465.5,434.2 466.0,401.4 466.5,431.6 467.0,399.5 467.5,428.8 468.0,400.4 468.5,427.9 469.0,403.9 469.5,439.7 470.0,407.9 470.5,448.7 471.0,397.9 471.5,452.0 472.0,393.7 472.5,443.4 473.0,401.2 473.5,447.5 474.0,407.1 474.5,439.3 475.0,414.3 475.5,442.5 476.0,409.2 476.5,441.4 477.0,408.8 477.5,444.2 478.0,409.0 478.5,446.1 479.0,410.5 479.5,445.5 480.0,416.1 480.5,453.4 481.0,410.9 481.5,460.7 482.0,408.6 482.5,450.3 483.0,409.3 483.5,455.2 484.0,408.8 484.5,456.9 485.0,393.4 485.5,454.1 486.0,411.1 486.5,452.1 487.0,398.8 487.5,451.3 488.0,387.7 488.5,444.0 489.0,384.2 489.5,443.1 490.0,379.5 490.5,433.1 491.0,383.5 491.5,428.8 492.0,376.3 492.5,439.1 493.0,370.3 493.5,409.8 494.0,364.5 494.5,414.0 495.0,367.8 495.5,417.8 496.0,377.3 496.5,420.7 497.0,365.3 497.5,438.1 498.0,388.5 498.5,422.9 499.0,392.1 499.5,427.8 500.0,387.9 500.5,435.1 501.0,392.0 501.5,436.3 502.0,398.5 502.5,442.5 503.0,403.2 503.5,441.2 504.0,408.6 504.5,444.9 505.0,410.9 505.5,455.6 506.0,418.4 506.5,459.9 507.0,417.7 507.5,462.4 508.0,420.8 508.5,462.8 509.0,429.5 509.5,483.3 510.0,414.8 510.5,465.2 511.0,419.4 511.5,462.9 512.0,420.1 512.5,463.8 513.0,427.0 513.5,458.7 514.0,437.0 514.5,464.6 515.0,431.4 515.5,462.4 516.0,437.4 516.5,463.6 517.0,425.7 517.5,471.4 518.0,430.3 518.5,476.6 519.0,433.2 519.5,478.2 520.0,415.9 520.5,479.8 521.0,436.4 521.5,482.8 522.0,435.9 522.5,478.6 523.0,445.2 523.5,490.6 524.0,431.7 524.5,485.8 525.0,417.1 525.5,482.2 526.0,414.7 526.5,491.6 527.0,410.3 527.5,486.7 528.0,388.6 528.5,474.5 529.0,389.7 529.5,454.3 530.0,370.3 530.5,450.7 531.0,360.9 531.5,425.5 532.0,356.5 532.5,437.5 533.0,360.6 533.5,437.8 534.0,373.8 534.5,435.2 535.0,375.8 535.5,439.3 536.0,377.3 536.5,424.9 537.0,380.1 537.5,413.1 538.0,376.7 538.5,432.4 539.0,365.6 539.5,429.9 540.0,361.2 540.5,431.8 541.0,371.6 541.5,438.7 542.0,377.0 542.5,436.5 543.0,368.7 543.5,432.8 544.0,375.0 544.5,432.9 545.0,389.3 545.5,445.4 546.0,399.9 546.5,422.5 547.0,403.8 547.5,430.0 548.0,397.5 548.5,442.2 549.0,390.0 549.5,444.7 550.0,394.8 550.5,449.5 551.0,398.2 551.5,441.8 552.0,403.5 552.5,438.6 553.0,396.7 553.5,442.8 554.0,397.7 554.5,445.7 555.0,407.9 555.5,450.4 556.0,411.5 556.5,441.9 557.0,417.5 557.5,443.0 558.0,407.3 558.5,437.6 559.0,399.8 559.5,443.3 560.0,393.6 560.5,447.3 561.0,391.6 561.5,445.4 562.0,385.6 562.5,440.8 563.0,392.5 563.5,436.4 564.0,400.0 564.5,425.0 565.0,402.9 565.5,441.5 566.0,391.7 566.5,418.4 567.0,380.8 567.5,418.6 568.0,370.4 568.5,414.5 569.0,366.6 569.5,422.4 570.0,385.0 570.5,436.7 571.0,392.7 571.5,436.2 572.0,400.3 572.5,443.9 573.0,398.1 573.5,440.6 574.0,380.3 574.5,443.1 575.0,406.5 575.5,441.1 576.0,378.9 576.5,442.5 577.0,399.7 577.5,436.8 578.0,402.3 578.5,434.9 579.0,397.6 579.5,439.4 580.0,398.9 580.5,431.8 581.0,399.4 581.5,435.8 582.0,399.8 582.5,441.4 583.0,391.5 583.5,443.0 584.0,406.3 584.5,445.8 585.0,404.7 585.5,456.4 586.0,415.3 586.5,451.6 587.0,410.8 587.5,455.9 588.0,394.9 588.5,451.1 589.0,409.6 589.5,445.7 590.0,400.0 590.5,440.9 591.0,398.5 591.5,462.9 592.0,392.1 592.5,444.2 593.0,390.6 593.5,444.9 594.0,395.8 594.5,437.9 595.0,384.6 595.5,439.4 596.0,397.7 596.5,432.8 597.0,392.9 597.5,450.1 598.0,383.1 598.5,427.1 599.0,392.7 599.5,437.6 600.0,386.1 600.5,428.7 601.0,382.0 601.5,430.6 602.0,377.5 602.5,434.9 603.0,372.5 603.5,431.3 604.0,377.2 604.5,430.0 605.0,382.7 605.5,421.0 606.0,381.9 606.5,417.9 607.0,379.3 607.5,421.0 608.0,380.9 608.5,441.8 609.0,385.2 609.5,432.6 610.0,379.6 610.5,430.0 611.0,375.0 611.5,428.1 612.0,372.8 612.5,434.4 613.0,378.0 613.5,448.3 614.0,380.1 614.5,435.2 615.0,375.1 615.5,425.9 616.0,375.9 616.5,422.0 617.0,376.0 617.5,414.6 618.0,374.5 618.5,420.2 619.0,379.9 619.5,409.7 620.0,371.1 620.5,415.3 621.0,373.1 621.5,415.2 622.0,377.5 622.5,426.5 623.0,374.1 623.5,432.5 624.0,381.5 624.5,429.4 625.0,383.6 625.5,436.6 626.0,387.9 626.5,434.6 627.0,391.2 627.5,452.6 628.0,388.8 628.5,448.4 629.0,387.3 629.5,452.3 630.0,389.9 630.5,448.9 631.0,389.5 631.5,439.8 632.0,391.3 632.5,442.8 633.0,383.4 633.5,437.0 634.0,388.2 634.5,460.1 635.0,392.3 635.5,439.8 636.0,391.8 636.5,433.7 637.0,381.5 637.5,435.1 638.0,388.8 638.5,434.7 639.0,379.0 639.5,446.9 640.0,382.4 640.5,432.9 641.0,391.7 641.5,422.5 642.0,383.7 642.5,432.7 643.0,390.0 643.5,432.2 644.0,381.8 644.5,436.7 645.0,384.0 645.5,443.3 646.0,387.0 646.5,448.4 647.0,376.4 647.5,437.1 648.0,399.3 648.5,441.9 649.0,400.1 649.5,443.3 650.0,401.6 650.5,445.6 651.0,392.7 651.5,445.7 652.0,387.6 652.5,444.9 653.0,393.5 653.5,438.7 654.0,390.2 654.5,443.0 655.0,380.6 655.5,452.3 656.0,387.0 656.5,439.2 657.0,383.4 657.5,439.1 658.0,382.1 658.5,430.0 659.0,387.9 659.5,422.1 660.0,393.0 660.5,429.6 661.0,396.8 661.5,431.4 662.0,381.4 662.5,435.9 663.0,390.7 663.5,423.8 664.0,390.5 664.5,417.6 665.0,388.9 665.5,417.1 666.0,386.3 666.5,417.2 667.0,363.0 667.5,416.7 668.0,384.8 668.5,424.6 669.0,378.9 669.5,402.1 670.0,371.0 670.5,410.8 671.0,361.1 671.5,409.9 672.0,360.9 672.5,415.4 673.0,351.3 673.5,411.5 674.0,357.5 674.5,421.4 675.0,363.8 675.5,418.9 676.0,361.1 676.5,410.7 677.0,355.4 677.5,407.5 678.0,353.1 678.5,406.7 679.0,334.5 679.5,415.0 680.0,345.9 680.5,429.3 681.0,359.8 681.5,423.5 682.0,356.0 682.5,419.9 683.0,363.0 683.5,416.7 684.0,363.4 684.5,417.3 685.0,348.7 685.5,423.0 686.0,352.5 686.5,417.8 687.0,345.3 687.5,421.0 688.0,340.4 688.5,407.4 689.0,349.1 689.5,401.6 690.0,338.2 690.5,394.0 691.0,349.0 691.5,401.3 692.0,344.6 692.5,399.0 693.0,346.1 693.5,394.4 694.0,343.2 694.5,394.0 695.0,350.0 695.5,395.5 696.0,359.7 696.5,398.3 697.0,361.7 697.5,407.6 698.0,346.7 698.5,395.7 699.0,355.5 699.5,398.5 700.0,350.8 700.5,404.0 701.0,344.4 701.5,393.3 702.0,350.4 702.5,397.7 703.0,355.3 703.5,404.0 704.0,362.3 704.5,432.0 705.0,377.8 705.5,424.7 706.0,376.3 706.5,425.3 707.0,375.3 707.5,417.5 708.0,348.7 708.5,414.9 709.0,377.1 709.5,420.2 710.0,374.1 710.5,421.5 711.0,369.6 711.5,419.7 712.0,373.2 712.5,418.0 713.0,369.8 713.5,413.3 714.0,367.2 714.5,413.1 715.0,370.9 715.5,402.4 716.0,368.9 716.5,400.3 717.0,366.0 717.5,405.8 718.0,363.5 718.5,409.6 719.0,366.3 719.5,405.8 720.0,358.1 720.5,403.5 721.0,352.7 721.5,396.7 722.0,355.2 722.5,394.6 723.0,345.1 723.5,388.6 724.0,337.9 724.5,401.4 725.1,296.3 725.5,384.9 726.0,348.2 726.5,381.5 727.0,342.1 727.5,381.6 728.0,335.1 728.5,378.1 729.0,326.4 729.5,397.9 730.0,324.9 730.5,391.3 731.0,326.7 731.5,395.7 732.0,321.6 732.7,314.1 733.0,329.5 733.5,382.3 734.0,332.6 734.5,373.9 735.0,316.4 735.5,384.7 736.0,342.8 736.5,386.2 737.0,332.8 737.5,393.4 738.0,340.3 738.5,401.5 739.0,343.1 739.5,403.7 740.0,343.4 740.5,403.1 741.0,357.4 741.5,392.1 742.0,362.6 742.5,389.9 743.0,367.9 743.5,393.7 744.0,363.4 744.5,397.8 745.0,355.1 745.5,401.1 746.0,356.3 746.5,402.3 747.0,356.6 747.5,403.5 748.0,350.1 748.5,419.7 749.0,358.3 749.5,402.3 750.0,354.1 750.5,397.3 751.0,355.3 751.5,406.1 752.0,351.6 752.5,412.0 753.0,347.9 753.5,427.5 754.0,356.3 754.5,416.1 755.0,370.6 755.5,416.5 756.0,372.8 756.5,420.8 757.0,372.8 757.5,428.5 758.0,378.8 758.5,431.7 759.0,368.5 759.5,430.5 760.0,359.4 760.5,432.6 761.0,353.6 761.5,431.4 762.0,357.4 762.5,429.4 763.0,357.3 763.5,428.0 764.0,356.3 764.5,432.2 765.0,351.9 765.5,428.7 766.0,360.2 766.5,426.6 767.0,375.7 767.5,419.5 768.0,342.7 768.5,409.2 769.0,362.7 769.5,411.8 770.0,352.6 770.5,421.6 771.0,343.6 771.5,400.2 772.0,345.9 772.5,405.6 773.0,354.4 773.5,403.6 774.0,362.3 774.5,406.8 775.0,335.4 775.5,410.8 776.0,359.5 776.5,408.8 777.0,340.9 777.5,403.7 778.0,332.4 778.5,389.3 779.0,328.7 779.5,398.2 780.0,336.0 780.5,408.5 781.0,350.3 781.5,393.8 782.0,354.7 782.5,392.9 783.0,353.5 783.5,388.3 784.0,344.9 784.5,393.6 785.0,345.6 785.5,413.6 786.0,346.9 786.5,413.7 787.0,353.8 787.5,412.1 788.0,354.2 788.5,412.7 789.0,357.4 789.5,406.3 790.0,364.8 790.5,416.9 791.0,367.3 791.5,398.4 792.0,364.4 792.5,393.5 793.0,341.7 793.5,395.3 794.0,340.3 794.5,399.1 795.0,334.2 795.5,389.4 796.0,335.2 796.5,389.4 797.0,334.4 797.5,383.8 798.0,334.4 798.5,387.8 799.0,338.4 799.5,386.1 800.0,350.4 800.5,408.2 801.0,357.0 801.5,412.4 802.0,323.6 802.5,410.0 803.0,347.6 803.5,406.4 804.0,343.5 804.5,409.1 805.0,349.4 805.5,412.6 806.0,356.9 806.5,418.9 807.0,360.3 807.5,423.9 808.0,349.8 808.5,419.2 809.0,373.0 809.5,423.3 810.0,369.0 810.5,415.4 811.0,362.3 811.5,427.6 812.0,349.0 812.5,422.8 813.0,349.3 813.5,424.4 814.0,347.4 814.5,409.2 815.0,355.3 815.5,407.6 816.0,350.7 816.5,425.0 817.0,368.3 817.5,424.0 818.0,373.3 818.5,413.4 819.0,367.8 819.5,423.6 820.0,374.0 820.5,418.4 821.0,370.6 821.5,424.4 822.0,372.1 822.5,422.8 823.0,375.9 823.5,421.5 824.0,375.3 824.5,424.3 825.0,359.9 825.5,425.2 826.0,379.1 826.5,424.8 827.0,376.8 827.5,426.0 828.0,383.1 828.5,430.9 829.0,382.7 829.5,436.1 830.0,393.1 830.5,438.7 831.0,398.2 831.5,437.5 832.0,405.3 832.5,437.2 833.0,411.9 833.5,448.3 834.0,398.1 834.5,438.8 835.0,414.1 835.5,438.9 836.0,418.8 836.5,442.9 837.0,415.5 837.5,445.6 838.0,417.0 838.5,445.7 839.0,404.7 839.5,447.5 840.0,402.2 840.5,455.9 841.0,405.4 841.5,442.7 842.0,401.7 842.5,441.7 843.0,402.1 843.5,435.2 844.0,404.4 844.5,436.1 845.0,400.6 845.5,458.1 846.0,398.7 846.5,440.4 847.0,398.6 847.5,446.7 848.0,410.9 848.5,446.2 849.0,388.2 849.5,458.8 850.0,411.6 850.5,453.6 851.0,405.2 851.5,450.4 852.0,394.4 852.5,453.6 853.0,401.5 853.5,459.6 854.0,407.6 854.5,454.0 855.0,398.7 855.5,455.9 856.0,413.2 856.5,453.1 857.0,403.2 857.5,454.2 858.0,417.2 858.5,454.9 859.0,413.7 859.5,456.5 860.0,414.1 860.5,457.5 861.0,411.8 861.5,451.6 862.0,416.1 862.5,460.2 863.0,419.5 863.5,449.6 864.0,402.5 864.5,453.4 865.0,409.0 865.5,446.8 866.0,408.5 866.5,454.3 867.0,401.8 867.5,455.9 868.0,418.5 868.5,451.2 869.0,412.9 869.5,455.0 870.0,407.3 870.5,444.7 871.0,401.3 871.5,448.8 872.0,414.7 872.5,440.1 873.0,413.3 873.5,443.6 874.0,414.3 874.5,439.2 875.0,419.5 875.5,442.3 876.0,413.2 876.5,458.6 877.0,417.6 877.5,451.5 878.0,414.0 878.5,443.5 879.0,408.0 879.5,438.4 880.0,407.5 880.5,434.1 881.0,395.2 881.5,436.4 882.0,396.7 882.5,460.5 883.0,396.1 883.5,444.9 884.0,407.0 884.5,448.2 885.0,408.6 885.5,453.8 886.0,409.0 886.5,461.9 887.0,406.4 887.5,443.4 888.0,393.1 888.5,437.2 889.0,404.2 889.5,435.4 890.0,394.7 890.5,437.7 891.0,389.9 891.5,453.4 892.0,390.7 892.5,443.8 893.0,382.5 893.5,443.9 894.0,387.7 894.5,448.6 895.0,377.9 895.5,442.3 896.0,398.0 896.5,443.5 897.0,402.9 897.5,431.1 898.0,395.9 898.5,438.9 899.0,389.8 899.5,442.0 900.0,378.2 900.5,424.5 901.0,380.3 901.5,419.5 902.0,360.6 902.5,419.4 903.0,362.9 903.5,425.1 904.0,360.5 904.5,428.0 905.0,371.0 905.5,418.6 906.0,378.9 906.5,428.5 907.0,386.5 907.5,412.0 908.0,382.6 908.5,408.8 909.0,366.2 909.5,415.1 910.0,388.9 910.5,425.3 911.0,395.6 911.5,442.0 912.0,407.9 912.5,458.9 913.0,403.0 913.5,454.9 914.0,400.5 914.5,453.6 915.0,399.7 915.5,459.4 916.0,407.1 916.5,456.8 917.0,413.3 917.5,471.7 918.0,410.4 918.5,470.8 919.0,433.2 919.5,476.7 920.0,428.1 920.5,475.5 921.0,421.7 921.5,473.7 922.0,410.1 922.5,480.8 923.0,419.5 923.5,464.6 924.0,415.8 924.5,468.4 925.0,421.2 925.5,468.5 926.0,431.0 926.5,470.1 927.0,430.7 927.5,478.4 928.0,426.4 928.5,472.7 929.0,423.0 929.5,470.2 930.0,415.2 930.5,471.4 931.0,422.6 931.5,466.3 932.0,428.1 932.5,478.5 933.0,443.0 933.5,490.0 934.0,446.5 934.5,492.7 935.0,447.5"/>
</g>
<path d="M118.5 16.1V689.8M936.5 16.1V689.8" stroke="#000" stroke-width="2.9" fill="none"/>
<path d="M117.0 17.8H938.0" stroke="#000" stroke-width="3.5" fill="none"/>
<path d="M117.0 687.9H938.0" stroke="#000" stroke-width="3.9" fill="none"/>
<path d="M103.2 17.8H118.5" stroke="#000" stroke-width="3.5" fill="none"/>
<path d="M103.2 687.9H118.5" stroke="#000" stroke-width="3.9" fill="none"/>
<path d="M103.2 185.3H118.5M103.2 352.9H118.5M103.2 520.4H118.5M109.8 101.6H118.5M109.8 269.1H118.5M109.8 436.6H118.5M109.8 604.1H118.5" stroke="#000" stroke-width="2.6" fill="none"/>
<path d="M118.5 687.9V702.5M200.3 687.9V702.5M282.1 687.9V702.5M363.9 687.9V702.5M445.7 687.9V702.5M527.5 687.9V702.5M609.3 687.9V702.5M691.1 687.9V702.5M772.9 687.9V702.5M854.7 687.9V702.5M936.5 687.9V702.5M159.4 687.9V696.2M241.2 687.9V696.2M323.0 687.9V696.2M404.8 687.9V696.2M486.6 687.9V696.2M568.4 687.9V696.2M650.2 687.9V696.2M732.0 687.9V696.2M813.8 687.9V696.2M895.6 687.9V696.2" stroke="#000" stroke-width="3.0" fill="none"/>
<text x="94.8" y="25.6" text-anchor="end" font-size="30" class="t">2.3</text>
<text x="94.8" y="193.1" text-anchor="end" font-size="30" class="t">2.2</text>
<text x="94.8" y="360.7" text-anchor="end" font-size="30" class="t">2.1</text>
<text x="94.8" y="528.2" text-anchor="end" font-size="30" class="t">2.0</text>
<text x="94.8" y="695.7" text-anchor="end" font-size="30" class="t">1.9</text>
<text x="117.9" y="734.4" text-anchor="middle" font-size="30" letter-spacing="-0.4" class="t">0</text>
<text x="199.7" y="734.4" text-anchor="middle" font-size="30" letter-spacing="-0.4" class="t">20</text>
<text x="281.5" y="734.4" text-anchor="middle" font-size="30" letter-spacing="-0.4" class="t">40</text>
<text x="363.3" y="734.4" text-anchor="middle" font-size="30" letter-spacing="-0.4" class="t">60</text>
<text x="445.1" y="734.4" text-anchor="middle" font-size="30" letter-spacing="-0.4" class="t">80</text>
<text x="526.9" y="734.4" text-anchor="middle" font-size="30" letter-spacing="-0.4" class="t">100</text>
<text x="608.7" y="734.4" text-anchor="middle" font-size="30" letter-spacing="-0.4" class="t">120</text>
<text x="690.5" y="734.4" text-anchor="middle" font-size="30" letter-spacing="-0.4" class="t">140</text>
<text x="772.3" y="734.4" text-anchor="middle" font-size="30" letter-spacing="-0.4" class="t">160</text>
<text x="854.1" y="734.4" text-anchor="middle" font-size="30" letter-spacing="-0.4" class="t">180</text>
<text x="935.9" y="734.4" text-anchor="middle" font-size="30" letter-spacing="-0.4" class="t">200</text>
<text x="527" y="772" text-anchor="middle" font-size="33" class="t">Time (ns)</text>
<text transform="translate(27.5 357.3) rotate(-90)" text-anchor="middle" font-size="33.3" class="t">Rg (nm)</text>
<rect x="548.8" y="22.4" width="380" height="209.6" fill="#fff" stroke="#1a1a1a" stroke-width="1.3"/>
<path d="M566 46.6H640" stroke="#F07A0A" stroke-width="4.8" stroke-linecap="round"/>
<text x="650.6" y="57.5" font-size="33.3" textLength="161.0" lengthAdjust="spacing" class="t">Apo-SIRT2</text>
<path d="M566 88.2H640" stroke="#00007F" stroke-width="4.8" stroke-linecap="round"/>
<text x="648.2" y="99.1" font-size="33.3" textLength="225.7" lengthAdjust="spacing" class="t">SirReal2-SIRT2</text>
<path d="M566 129.7H640" stroke="#CC00CC" stroke-width="4.8" stroke-linecap="round"/>
<text x="648.9" y="140.6" font-size="33.3" textLength="269.3" lengthAdjust="spacing" class="t">NPA009578-SIRT2</text>
<path d="M566 171.2H640" stroke="#808080" stroke-width="4.8" stroke-linecap="round"/>
<text x="648.9" y="182.2" font-size="33.3" textLength="269.3" lengthAdjust="spacing" class="t">NPA006805-SIRT2</text>
<path d="M566 212.8H640" stroke="#66CC00" stroke-width="4.8" stroke-linecap="round"/>
<text x="648.9" y="223.7" font-size="33.3" textLength="269.3" lengthAdjust="spacing" class="t">NPA001884-SIRT2</text>
</svg>
</body></html>
